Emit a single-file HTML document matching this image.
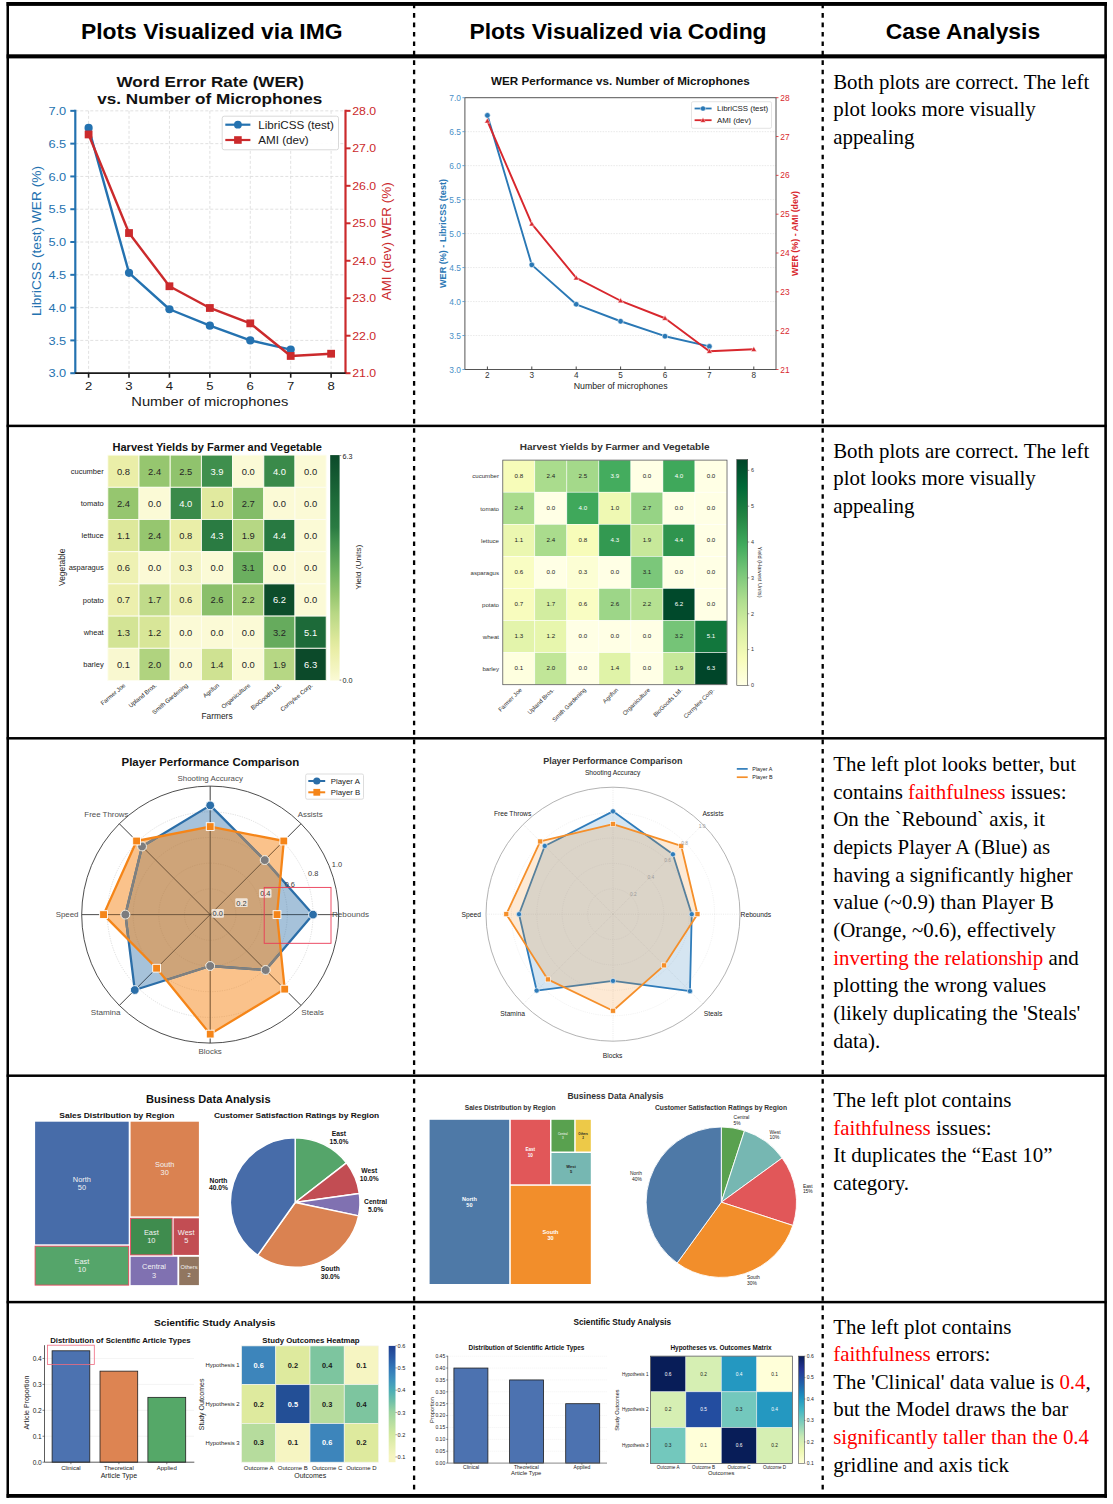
<!DOCTYPE html>
<html><head><meta charset="utf-8"><title>Case analysis</title>
<style>
html,body{margin:0;padding:0;background:#fff;}
body{width:1113px;height:1504px;overflow:hidden;font-family:"Liberation Sans",sans-serif;}
svg{display:block;position:absolute;left:0;top:0;}
text{font-family:"Liberation Sans",sans-serif;}
text.hd{font-weight:bold;font-size:22.9px;}
text.sf{font-family:"Liberation Serif",serif;font-size:20.9px;}
</style></head><body>
<svg width="1113" height="1504" viewBox="0 0 1113 1504">
<rect width="1113" height="1504" fill="#fff"/>
<rect x="6.6" y="2" width="1100.3" height="3.9" fill="#000"/>
<rect x="6.6" y="54.3" width="1100.3" height="4.1" fill="#000"/>
<rect x="6.6" y="1494" width="1100.3" height="3.8" fill="#000"/>
<rect x="6.5" y="2" width="2.5" height="1495.8" fill="#000"/>
<rect x="1104.3" y="2" width="2.6" height="1495.8" fill="#000"/>
<rect x="6.6" y="424.65" width="1100" height="2.5" fill="#000"/>
<rect x="6.6" y="737.05" width="1100" height="2.5" fill="#000"/>
<rect x="6.6" y="1074.45" width="1100" height="2.5" fill="#000"/>
<rect x="6.6" y="1300.85" width="1100" height="2.5" fill="#000"/>
<line x1="414.1" y1="5" x2="414.1" y2="1495" stroke="#000" stroke-width="2.3" stroke-dasharray="4.6 4.834" stroke-dashoffset="1.31"/>
<line x1="822.7" y1="5" x2="822.7" y2="1495" stroke="#000" stroke-width="2.3" stroke-dasharray="4.6 4.834" stroke-dashoffset="1.31"/>
<text x="211.7" y="38.7" text-anchor="middle" class="hd">Plots Visualized via IMG</text>
<text x="618" y="38.7" text-anchor="middle" class="hd">Plots Visualized via Coding</text>
<text x="963" y="38.7" text-anchor="middle" class="hd">Case Analysis</text>
<text x="833.2" y="88.9" class="sf" xml:space="preserve">Both plots are correct. The left</text>
<text x="833.2" y="116.3" class="sf" xml:space="preserve">plot looks more visually</text>
<text x="833.2" y="143.7" class="sf" xml:space="preserve">appealing</text>
<text x="833.2" y="457.7" class="sf" xml:space="preserve">Both plots are correct. The left</text>
<text x="833.2" y="485.35" class="sf" xml:space="preserve">plot looks more visually</text>
<text x="833.2" y="513.0" class="sf" xml:space="preserve">appealing</text>
<text x="833.2" y="770.9" class="sf" xml:space="preserve">The left plot looks better, but</text>
<text x="833.2" y="798.59" class="sf" xml:space="preserve">contains <tspan fill="#ff0000">faithfulness</tspan> issues:</text>
<text x="833.2" y="826.28" class="sf" xml:space="preserve">On the `Rebound` axis, it</text>
<text x="833.2" y="853.97" class="sf" xml:space="preserve">depicts Player A (Blue) as</text>
<text x="833.2" y="881.66" class="sf" xml:space="preserve">having a significantly higher</text>
<text x="833.2" y="909.35" class="sf" xml:space="preserve">value (~0.9) than Player B</text>
<text x="833.2" y="937.04" class="sf" xml:space="preserve">(Orange, ~0.6), effectively</text>
<text x="833.2" y="964.73" class="sf" xml:space="preserve"><tspan fill="#ff0000">inverting the relationship</tspan> and</text>
<text x="833.2" y="992.42" class="sf" xml:space="preserve">plotting the wrong values</text>
<text x="833.2" y="1020.11" class="sf" xml:space="preserve">(likely duplicating the 'Steals'</text>
<text x="833.2" y="1047.8" class="sf" xml:space="preserve">data).</text>
<text x="833.2" y="1106.9" class="sf" xml:space="preserve">The left plot contains</text>
<text x="833.2" y="1134.65" class="sf" xml:space="preserve"><tspan fill="#ff0000">faithfulness</tspan> issues:</text>
<text x="833.2" y="1162.4" class="sf" xml:space="preserve">It duplicates the “East 10”</text>
<text x="833.2" y="1190.15" class="sf" xml:space="preserve">category.</text>
<text x="833.2" y="1333.7" class="sf" xml:space="preserve">The left plot contains</text>
<text x="833.2" y="1361.26" class="sf" xml:space="preserve"><tspan fill="#ff0000">faithfulness</tspan> errors:</text>
<text x="833.2" y="1388.82" class="sf" xml:space="preserve">The 'Clinical' data value is <tspan fill="#ff0000">0.4</tspan>,</text>
<text x="833.2" y="1416.38" class="sf" xml:space="preserve">but the Model draws the bar</text>
<text x="833.2" y="1443.94" class="sf" xml:space="preserve"><tspan fill="#ff0000">significantly taller than the 0.4</tspan></text>
<text x="833.2" y="1471.5" class="sf" xml:space="preserve">gridline and axis tick</text>
<g id="c1l"><line x1="88.6" y1="110.85" x2="88.6" y2="373.2" stroke="#d9d9d9" stroke-width="0.8" stroke-dasharray="3 2"/>
<line x1="129.02" y1="110.85" x2="129.02" y2="373.2" stroke="#d9d9d9" stroke-width="0.8" stroke-dasharray="3 2"/>
<line x1="169.44" y1="110.85" x2="169.44" y2="373.2" stroke="#d9d9d9" stroke-width="0.8" stroke-dasharray="3 2"/>
<line x1="209.86" y1="110.85" x2="209.86" y2="373.2" stroke="#d9d9d9" stroke-width="0.8" stroke-dasharray="3 2"/>
<line x1="250.28" y1="110.85" x2="250.28" y2="373.2" stroke="#d9d9d9" stroke-width="0.8" stroke-dasharray="3 2"/>
<line x1="290.7" y1="110.85" x2="290.7" y2="373.2" stroke="#d9d9d9" stroke-width="0.8" stroke-dasharray="3 2"/>
<line x1="331.12" y1="110.85" x2="331.12" y2="373.2" stroke="#d9d9d9" stroke-width="0.8" stroke-dasharray="3 2"/>
<line x1="75.3" y1="373.2" x2="345.5" y2="373.2" stroke="#d9d9d9" stroke-width="0.8" stroke-dasharray="3 2"/>
<line x1="75.3" y1="340.41" x2="345.5" y2="340.41" stroke="#d9d9d9" stroke-width="0.8" stroke-dasharray="3 2"/>
<line x1="75.3" y1="307.61" x2="345.5" y2="307.61" stroke="#d9d9d9" stroke-width="0.8" stroke-dasharray="3 2"/>
<line x1="75.3" y1="274.82" x2="345.5" y2="274.82" stroke="#d9d9d9" stroke-width="0.8" stroke-dasharray="3 2"/>
<line x1="75.3" y1="242.02" x2="345.5" y2="242.02" stroke="#d9d9d9" stroke-width="0.8" stroke-dasharray="3 2"/>
<line x1="75.3" y1="209.23" x2="345.5" y2="209.23" stroke="#d9d9d9" stroke-width="0.8" stroke-dasharray="3 2"/>
<line x1="75.3" y1="176.44" x2="345.5" y2="176.44" stroke="#d9d9d9" stroke-width="0.8" stroke-dasharray="3 2"/>
<line x1="75.3" y1="143.64" x2="345.5" y2="143.64" stroke="#d9d9d9" stroke-width="0.8" stroke-dasharray="3 2"/>
<line x1="75.3" y1="110.85" x2="345.5" y2="110.85" stroke="#d9d9d9" stroke-width="0.8" stroke-dasharray="3 2"/>
<text x="210.2" y="86.9" font-size="14.6" fill="#111" text-anchor="middle" font-weight="bold" textLength="187.3" lengthAdjust="spacingAndGlyphs">Word Error Rate (WER)</text>
<text x="209.8" y="104" font-size="14.6" fill="#111" text-anchor="middle" font-weight="bold" textLength="225" lengthAdjust="spacingAndGlyphs">vs. Number of Microphones</text>
<line x1="75.3" y1="109.85" x2="75.3" y2="374.1" stroke="#2472b0" stroke-width="2.2"/>
<line x1="345.5" y1="109.85" x2="345.5" y2="374.1" stroke="#cb2a2c" stroke-width="2.2"/>
<line x1="74.2" y1="373.2" x2="346.6" y2="373.2" stroke="#1a1a1a" stroke-width="1.8"/>
<line x1="70.3" y1="373.2" x2="75.3" y2="373.2" stroke="#2472b0" stroke-width="2"/>
<text x="66.2" y="377.3" font-size="11.2" fill="#2472b0" text-anchor="end" textLength="17.8" lengthAdjust="spacingAndGlyphs">3.0</text>
<line x1="70.3" y1="340.41" x2="75.3" y2="340.41" stroke="#2472b0" stroke-width="2"/>
<text x="66.2" y="344.51" font-size="11.2" fill="#2472b0" text-anchor="end" textLength="17.8" lengthAdjust="spacingAndGlyphs">3.5</text>
<line x1="70.3" y1="307.61" x2="75.3" y2="307.61" stroke="#2472b0" stroke-width="2"/>
<text x="66.2" y="311.71" font-size="11.2" fill="#2472b0" text-anchor="end" textLength="17.8" lengthAdjust="spacingAndGlyphs">4.0</text>
<line x1="70.3" y1="274.82" x2="75.3" y2="274.82" stroke="#2472b0" stroke-width="2"/>
<text x="66.2" y="278.92" font-size="11.2" fill="#2472b0" text-anchor="end" textLength="17.8" lengthAdjust="spacingAndGlyphs">4.5</text>
<line x1="70.3" y1="242.02" x2="75.3" y2="242.02" stroke="#2472b0" stroke-width="2"/>
<text x="66.2" y="246.12" font-size="11.2" fill="#2472b0" text-anchor="end" textLength="17.8" lengthAdjust="spacingAndGlyphs">5.0</text>
<line x1="70.3" y1="209.23" x2="75.3" y2="209.23" stroke="#2472b0" stroke-width="2"/>
<text x="66.2" y="213.33" font-size="11.2" fill="#2472b0" text-anchor="end" textLength="17.8" lengthAdjust="spacingAndGlyphs">5.5</text>
<line x1="70.3" y1="176.44" x2="75.3" y2="176.44" stroke="#2472b0" stroke-width="2"/>
<text x="66.2" y="180.54" font-size="11.2" fill="#2472b0" text-anchor="end" textLength="17.8" lengthAdjust="spacingAndGlyphs">6.0</text>
<line x1="70.3" y1="143.64" x2="75.3" y2="143.64" stroke="#2472b0" stroke-width="2"/>
<text x="66.2" y="147.74" font-size="11.2" fill="#2472b0" text-anchor="end" textLength="17.8" lengthAdjust="spacingAndGlyphs">6.5</text>
<line x1="70.3" y1="110.85" x2="75.3" y2="110.85" stroke="#2472b0" stroke-width="2"/>
<text x="66.2" y="114.95" font-size="11.2" fill="#2472b0" text-anchor="end" textLength="17.8" lengthAdjust="spacingAndGlyphs">7.0</text>
<line x1="345.5" y1="373.2" x2="350.5" y2="373.2" stroke="#cb2a2c" stroke-width="2"/>
<text x="352.2" y="377.3" font-size="11.2" fill="#cb2a2c" textLength="24" lengthAdjust="spacingAndGlyphs">21.0</text>
<line x1="345.5" y1="335.72" x2="350.5" y2="335.72" stroke="#cb2a2c" stroke-width="2"/>
<text x="352.2" y="339.82" font-size="11.2" fill="#cb2a2c" textLength="24" lengthAdjust="spacingAndGlyphs">22.0</text>
<line x1="345.5" y1="298.24" x2="350.5" y2="298.24" stroke="#cb2a2c" stroke-width="2"/>
<text x="352.2" y="302.34" font-size="11.2" fill="#cb2a2c" textLength="24" lengthAdjust="spacingAndGlyphs">23.0</text>
<line x1="345.5" y1="260.76" x2="350.5" y2="260.76" stroke="#cb2a2c" stroke-width="2"/>
<text x="352.2" y="264.86" font-size="11.2" fill="#cb2a2c" textLength="24" lengthAdjust="spacingAndGlyphs">24.0</text>
<line x1="345.5" y1="223.29" x2="350.5" y2="223.29" stroke="#cb2a2c" stroke-width="2"/>
<text x="352.2" y="227.39" font-size="11.2" fill="#cb2a2c" textLength="24" lengthAdjust="spacingAndGlyphs">25.0</text>
<line x1="345.5" y1="185.81" x2="350.5" y2="185.81" stroke="#cb2a2c" stroke-width="2"/>
<text x="352.2" y="189.91" font-size="11.2" fill="#cb2a2c" textLength="24" lengthAdjust="spacingAndGlyphs">26.0</text>
<line x1="345.5" y1="148.33" x2="350.5" y2="148.33" stroke="#cb2a2c" stroke-width="2"/>
<text x="352.2" y="152.43" font-size="11.2" fill="#cb2a2c" textLength="24" lengthAdjust="spacingAndGlyphs">27.0</text>
<line x1="345.5" y1="110.85" x2="350.5" y2="110.85" stroke="#cb2a2c" stroke-width="2"/>
<text x="352.2" y="114.95" font-size="11.2" fill="#cb2a2c" textLength="24" lengthAdjust="spacingAndGlyphs">28.0</text>
<line x1="88.6" y1="373.2" x2="88.6" y2="377.7" stroke="#1a1a1a" stroke-width="1.6"/>
<text x="88.6" y="390.4" font-size="11.2" fill="#1a1a1a" text-anchor="middle" textLength="7.3" lengthAdjust="spacingAndGlyphs">2</text>
<line x1="129.02" y1="373.2" x2="129.02" y2="377.7" stroke="#1a1a1a" stroke-width="1.6"/>
<text x="129.02" y="390.4" font-size="11.2" fill="#1a1a1a" text-anchor="middle" textLength="7.3" lengthAdjust="spacingAndGlyphs">3</text>
<line x1="169.44" y1="373.2" x2="169.44" y2="377.7" stroke="#1a1a1a" stroke-width="1.6"/>
<text x="169.44" y="390.4" font-size="11.2" fill="#1a1a1a" text-anchor="middle" textLength="7.3" lengthAdjust="spacingAndGlyphs">4</text>
<line x1="209.86" y1="373.2" x2="209.86" y2="377.7" stroke="#1a1a1a" stroke-width="1.6"/>
<text x="209.86" y="390.4" font-size="11.2" fill="#1a1a1a" text-anchor="middle" textLength="7.3" lengthAdjust="spacingAndGlyphs">5</text>
<line x1="250.28" y1="373.2" x2="250.28" y2="377.7" stroke="#1a1a1a" stroke-width="1.6"/>
<text x="250.28" y="390.4" font-size="11.2" fill="#1a1a1a" text-anchor="middle" textLength="7.3" lengthAdjust="spacingAndGlyphs">6</text>
<line x1="290.7" y1="373.2" x2="290.7" y2="377.7" stroke="#1a1a1a" stroke-width="1.6"/>
<text x="290.7" y="390.4" font-size="11.2" fill="#1a1a1a" text-anchor="middle" textLength="7.3" lengthAdjust="spacingAndGlyphs">7</text>
<line x1="331.12" y1="373.2" x2="331.12" y2="377.7" stroke="#1a1a1a" stroke-width="1.6"/>
<text x="331.12" y="390.4" font-size="11.2" fill="#1a1a1a" text-anchor="middle" textLength="7.3" lengthAdjust="spacingAndGlyphs">8</text>
<text x="209.8" y="406" font-size="12.6" fill="#1a1a1a" text-anchor="middle" textLength="157" lengthAdjust="spacingAndGlyphs">Number of microphones</text>
<text x="40.6" y="241" font-size="12.2" fill="#2472b0" text-anchor="middle" transform="rotate(-90 40.6 241)" textLength="150" lengthAdjust="spacingAndGlyphs">LibriCSS (test) WER (%)</text>
<text x="391.2" y="241.3" font-size="12.2" fill="#cb2a2c" text-anchor="middle" transform="rotate(-90 391.2 241.3)" textLength="118" lengthAdjust="spacingAndGlyphs">AMI (dev) WER (%)</text>
<polyline points="88.6,127.9 129.02,272.85 169.44,309.25 209.86,325.65 250.28,340.41 290.7,349.59" fill="none" stroke="#2472b0" stroke-width="2.4" stroke-linejoin="round"/>
<circle cx="88.6" cy="127.9" r="4.1" fill="#2472b0"/>
<circle cx="129.02" cy="272.85" r="4.1" fill="#2472b0"/>
<circle cx="169.44" cy="309.25" r="4.1" fill="#2472b0"/>
<circle cx="209.86" cy="325.65" r="4.1" fill="#2472b0"/>
<circle cx="250.28" cy="340.41" r="4.1" fill="#2472b0"/>
<circle cx="290.7" cy="349.59" r="4.1" fill="#2472b0"/>
<polyline points="88.6,134.46 129.02,233.03 169.44,286.25 209.86,307.99 250.28,323.35 290.7,355.96 331.12,353.71" fill="none" stroke="#cb2a2c" stroke-width="2.4" stroke-linejoin="round"/>
<rect x="84.7" y="130.56" width="7.8" height="7.8" fill="#cb2a2c"/>
<rect x="125.12" y="229.13" width="7.8" height="7.8" fill="#cb2a2c"/>
<rect x="165.54" y="282.35" width="7.8" height="7.8" fill="#cb2a2c"/>
<rect x="205.96" y="304.09" width="7.8" height="7.8" fill="#cb2a2c"/>
<rect x="246.38" y="319.45" width="7.8" height="7.8" fill="#cb2a2c"/>
<rect x="286.8" y="352.06" width="7.8" height="7.8" fill="#cb2a2c"/>
<rect x="327.22" y="349.81" width="7.8" height="7.8" fill="#cb2a2c"/>
<rect x="222.2" y="116.2" width="116.3" height="33.6" fill="#fff" stroke="#d5d5d5" stroke-width="0.9" rx="2" ry="2" fill-opacity="0.9"/>
<line x1="225.3" y1="124.7" x2="250.4" y2="124.7" stroke="#2472b0" stroke-width="2.2"/>
<circle cx="237.9" cy="124.7" r="3.9" fill="#2472b0"/>
<line x1="225.3" y1="140" x2="250.4" y2="140" stroke="#cb2a2c" stroke-width="2.2"/>
<rect x="234.1" y="136.2" width="7.6" height="7.6" fill="#cb2a2c"/>
<text x="258.2" y="128.6" font-size="10.8" fill="#1a1a1a" textLength="75.8" lengthAdjust="spacingAndGlyphs">LibriCSS (test)</text>
<text x="258.2" y="143.9" font-size="10.8" fill="#1a1a1a" textLength="50.5" lengthAdjust="spacingAndGlyphs">AMI (dev)</text></g>
<g id="c1r"><line x1="464.9" y1="335.52" x2="776" y2="335.52" stroke="#e3e3e3" stroke-width="0.8" stroke-dasharray="1.5 1.2"/>
<line x1="464.9" y1="301.55" x2="776" y2="301.55" stroke="#e3e3e3" stroke-width="0.8" stroke-dasharray="1.5 1.2"/>
<line x1="464.9" y1="267.57" x2="776" y2="267.57" stroke="#e3e3e3" stroke-width="0.8" stroke-dasharray="1.5 1.2"/>
<line x1="464.9" y1="233.6" x2="776" y2="233.6" stroke="#e3e3e3" stroke-width="0.8" stroke-dasharray="1.5 1.2"/>
<line x1="464.9" y1="199.62" x2="776" y2="199.62" stroke="#e3e3e3" stroke-width="0.8" stroke-dasharray="1.5 1.2"/>
<line x1="464.9" y1="165.65" x2="776" y2="165.65" stroke="#e3e3e3" stroke-width="0.8" stroke-dasharray="1.5 1.2"/>
<line x1="464.9" y1="131.67" x2="776" y2="131.67" stroke="#e3e3e3" stroke-width="0.8" stroke-dasharray="1.5 1.2"/>
<text x="620.4" y="84.6" font-size="11.4" fill="#111" text-anchor="middle" font-weight="bold" textLength="258.7" lengthAdjust="spacingAndGlyphs">WER Performance vs. Number of Microphones</text>
<rect x="464.9" y="97.7" width="311.1" height="271.8" fill="none" stroke="#555" stroke-width="1"/>
<line x1="462.4" y1="369.5" x2="464.9" y2="369.5" stroke="#4a8fc7" stroke-width="0.8"/>
<text x="461" y="372.5" font-size="8.4" fill="#4a8fc7" text-anchor="end">3.0</text>
<line x1="462.4" y1="335.52" x2="464.9" y2="335.52" stroke="#4a8fc7" stroke-width="0.8"/>
<text x="461" y="338.52" font-size="8.4" fill="#4a8fc7" text-anchor="end">3.5</text>
<line x1="462.4" y1="301.55" x2="464.9" y2="301.55" stroke="#4a8fc7" stroke-width="0.8"/>
<text x="461" y="304.55" font-size="8.4" fill="#4a8fc7" text-anchor="end">4.0</text>
<line x1="462.4" y1="267.57" x2="464.9" y2="267.57" stroke="#4a8fc7" stroke-width="0.8"/>
<text x="461" y="270.57" font-size="8.4" fill="#4a8fc7" text-anchor="end">4.5</text>
<line x1="462.4" y1="233.6" x2="464.9" y2="233.6" stroke="#4a8fc7" stroke-width="0.8"/>
<text x="461" y="236.6" font-size="8.4" fill="#4a8fc7" text-anchor="end">5.0</text>
<line x1="462.4" y1="199.62" x2="464.9" y2="199.62" stroke="#4a8fc7" stroke-width="0.8"/>
<text x="461" y="202.62" font-size="8.4" fill="#4a8fc7" text-anchor="end">5.5</text>
<line x1="462.4" y1="165.65" x2="464.9" y2="165.65" stroke="#4a8fc7" stroke-width="0.8"/>
<text x="461" y="168.65" font-size="8.4" fill="#4a8fc7" text-anchor="end">6.0</text>
<line x1="462.4" y1="131.67" x2="464.9" y2="131.67" stroke="#4a8fc7" stroke-width="0.8"/>
<text x="461" y="134.67" font-size="8.4" fill="#4a8fc7" text-anchor="end">6.5</text>
<line x1="462.4" y1="97.7" x2="464.9" y2="97.7" stroke="#4a8fc7" stroke-width="0.8"/>
<text x="461" y="100.7" font-size="8.4" fill="#4a8fc7" text-anchor="end">7.0</text>
<line x1="776" y1="369.5" x2="778.5" y2="369.5" stroke="#d8272d" stroke-width="0.8"/>
<text x="780.3" y="372.5" font-size="8.4" fill="#d8272d">21</text>
<line x1="776" y1="330.67" x2="778.5" y2="330.67" stroke="#d8272d" stroke-width="0.8"/>
<text x="780.3" y="333.67" font-size="8.4" fill="#d8272d">22</text>
<line x1="776" y1="291.84" x2="778.5" y2="291.84" stroke="#d8272d" stroke-width="0.8"/>
<text x="780.3" y="294.84" font-size="8.4" fill="#d8272d">23</text>
<line x1="776" y1="253.01" x2="778.5" y2="253.01" stroke="#d8272d" stroke-width="0.8"/>
<text x="780.3" y="256.01" font-size="8.4" fill="#d8272d">24</text>
<line x1="776" y1="214.19" x2="778.5" y2="214.19" stroke="#d8272d" stroke-width="0.8"/>
<text x="780.3" y="217.19" font-size="8.4" fill="#d8272d">25</text>
<line x1="776" y1="175.36" x2="778.5" y2="175.36" stroke="#d8272d" stroke-width="0.8"/>
<text x="780.3" y="178.36" font-size="8.4" fill="#d8272d">26</text>
<line x1="776" y1="136.53" x2="778.5" y2="136.53" stroke="#d8272d" stroke-width="0.8"/>
<text x="780.3" y="139.53" font-size="8.4" fill="#d8272d">27</text>
<line x1="776" y1="97.7" x2="778.5" y2="97.7" stroke="#d8272d" stroke-width="0.8"/>
<text x="780.3" y="100.7" font-size="8.4" fill="#d8272d">28</text>
<line x1="487.4" y1="369.5" x2="487.4" y2="366.5" stroke="#333" stroke-width="0.9"/>
<text x="487.4" y="378.4" font-size="8.2" fill="#333" text-anchor="middle">2</text>
<line x1="531.8" y1="369.5" x2="531.8" y2="366.5" stroke="#333" stroke-width="0.9"/>
<text x="531.8" y="378.4" font-size="8.2" fill="#333" text-anchor="middle">3</text>
<line x1="576.2" y1="369.5" x2="576.2" y2="366.5" stroke="#333" stroke-width="0.9"/>
<text x="576.2" y="378.4" font-size="8.2" fill="#333" text-anchor="middle">4</text>
<line x1="620.6" y1="369.5" x2="620.6" y2="366.5" stroke="#333" stroke-width="0.9"/>
<text x="620.6" y="378.4" font-size="8.2" fill="#333" text-anchor="middle">5</text>
<line x1="665" y1="369.5" x2="665" y2="366.5" stroke="#333" stroke-width="0.9"/>
<text x="665" y="378.4" font-size="8.2" fill="#333" text-anchor="middle">6</text>
<line x1="709.4" y1="369.5" x2="709.4" y2="366.5" stroke="#333" stroke-width="0.9"/>
<text x="709.4" y="378.4" font-size="8.2" fill="#333" text-anchor="middle">7</text>
<line x1="753.8" y1="369.5" x2="753.8" y2="366.5" stroke="#333" stroke-width="0.9"/>
<text x="753.8" y="378.4" font-size="8.2" fill="#333" text-anchor="middle">8</text>
<text x="620.6" y="388.6" font-size="8.8" fill="#222" text-anchor="middle">Number of microphones</text>
<text x="445.6" y="233.5" font-size="8.6" fill="#2a78b5" text-anchor="middle" font-weight="bold" transform="rotate(-90 445.6 233.5)" textLength="109" lengthAdjust="spacingAndGlyphs">WER (%) - LibriCSS (test)</text>
<text x="798.4" y="233.5" font-size="8.6" fill="#d8272d" text-anchor="middle" font-weight="bold" transform="rotate(-90 798.4 233.5)" textLength="85" lengthAdjust="spacingAndGlyphs">WER (%) - AMI (dev)</text>
<polyline points="487.4,115.37 531.8,264.86 576.2,304.27 620.6,321.26 665,336.2 709.4,346.4" fill="none" stroke="#2a78b5" stroke-width="1.9" stroke-linejoin="round"/>
<circle cx="487.4" cy="115.37" r="2.8" fill="#2a78b5" stroke="#fff" stroke-width="0.6"/>
<circle cx="531.8" cy="264.86" r="2.8" fill="#2a78b5" stroke="#fff" stroke-width="0.6"/>
<circle cx="576.2" cy="304.27" r="2.8" fill="#2a78b5" stroke="#fff" stroke-width="0.6"/>
<circle cx="620.6" cy="321.26" r="2.8" fill="#2a78b5" stroke="#fff" stroke-width="0.6"/>
<circle cx="665" cy="336.2" r="2.8" fill="#2a78b5" stroke="#fff" stroke-width="0.6"/>
<circle cx="709.4" cy="346.4" r="2.8" fill="#2a78b5" stroke="#fff" stroke-width="0.6"/>
<polyline points="487.4,121 531.8,223.89 576.2,277.86 620.6,300.77 665,318.25 709.4,351.25 753.8,349.31" fill="none" stroke="#d8272d" stroke-width="1.9" stroke-linejoin="round"/>
<polygon points="484.6,123.1 490.2,123.1 487.4,118.1" fill="#d8272d" stroke="#fff" stroke-width="0.5"/>
<polygon points="529,225.99 534.6,225.99 531.8,220.99" fill="#d8272d" stroke="#fff" stroke-width="0.5"/>
<polygon points="573.4,279.96 579,279.96 576.2,274.96" fill="#d8272d" stroke="#fff" stroke-width="0.5"/>
<polygon points="617.8,302.87 623.4,302.87 620.6,297.87" fill="#d8272d" stroke="#fff" stroke-width="0.5"/>
<polygon points="662.2,320.35 667.8,320.35 665,315.35" fill="#d8272d" stroke="#fff" stroke-width="0.5"/>
<polygon points="706.6,353.35 712.2,353.35 709.4,348.35" fill="#d8272d" stroke="#fff" stroke-width="0.5"/>
<polygon points="751,351.41 756.6,351.41 753.8,346.41" fill="#d8272d" stroke="#fff" stroke-width="0.5"/>
<rect x="691.5" y="101.7" width="80" height="26.6" fill="#fff" stroke="#d9d9d9" stroke-width="0.7" rx="1.5" ry="1.5"/>
<line x1="694.6" y1="108.5" x2="711.6" y2="108.5" stroke="#2a78b5" stroke-width="1.8"/>
<circle cx="703" cy="108.5" r="2.6" fill="#2a78b5" stroke="#fff" stroke-width="0.5"/>
<line x1="694.6" y1="120.2" x2="711.6" y2="120.2" stroke="#d8272d" stroke-width="1.8"/>
<polygon points="700.4,122.3 705.6,122.3 703,117.5" fill="#d8272d" stroke="#fff" stroke-width="0.4"/>
<text x="717" y="111.4" font-size="8" fill="#222" textLength="51.2" lengthAdjust="spacingAndGlyphs">LibriCSS (test)</text>
<text x="717" y="123.1" font-size="8" fill="#222" textLength="34" lengthAdjust="spacingAndGlyphs">AMI (dev)</text></g>
<g id="c2l"><text x="217.2" y="450.9" font-size="11" fill="#111" text-anchor="middle" font-weight="bold" textLength="209.4" lengthAdjust="spacingAndGlyphs">Harvest Yields by Farmer and Vegetable</text>
<rect x="107.8" y="455.1" width="31.2" height="32.2" fill="#eaeea8" stroke="#fdfdf0" stroke-width="0.9"/>
<text x="123.4" y="474.5" font-size="9.4" fill="#262626" text-anchor="middle">0.8</text>
<rect x="139" y="455.1" width="31.2" height="32.2" fill="#96c66f" stroke="#fdfdf0" stroke-width="0.9"/>
<text x="154.6" y="474.5" font-size="9.4" fill="#262626" text-anchor="middle">2.4</text>
<rect x="170.2" y="455.1" width="31.2" height="32.2" fill="#90c36d" stroke="#fdfdf0" stroke-width="0.9"/>
<text x="185.8" y="474.5" font-size="9.4" fill="#262626" text-anchor="middle">2.5</text>
<rect x="201.4" y="455.1" width="31.2" height="32.2" fill="#3f8f4d" stroke="#fdfdf0" stroke-width="0.9"/>
<text x="217" y="474.5" font-size="9.4" fill="#fff" text-anchor="middle">3.9</text>
<rect x="232.6" y="455.1" width="31.2" height="32.2" fill="#fbfad6" stroke="#fdfdf0" stroke-width="0.9"/>
<text x="248.2" y="474.5" font-size="9.4" fill="#262626" text-anchor="middle">0.0</text>
<rect x="263.8" y="455.1" width="31.2" height="32.2" fill="#3a8a4a" stroke="#fdfdf0" stroke-width="0.9"/>
<text x="279.4" y="474.5" font-size="9.4" fill="#fff" text-anchor="middle">4.0</text>
<rect x="295" y="455.1" width="31.2" height="32.2" fill="#fbfad6" stroke="#fdfdf0" stroke-width="0.9"/>
<text x="310.6" y="474.5" font-size="9.4" fill="#262626" text-anchor="middle">0.0</text>
<text x="103.7" y="473.8" font-size="7.5" fill="#222" text-anchor="end">cucumber</text>
<rect x="107.8" y="487.3" width="31.2" height="32.2" fill="#96c66f" stroke="#fdfdf0" stroke-width="0.9"/>
<text x="123.4" y="506.7" font-size="9.4" fill="#262626" text-anchor="middle">2.4</text>
<rect x="139" y="487.3" width="31.2" height="32.2" fill="#fbfad6" stroke="#fdfdf0" stroke-width="0.9"/>
<text x="154.6" y="506.7" font-size="9.4" fill="#262626" text-anchor="middle">0.0</text>
<rect x="170.2" y="487.3" width="31.2" height="32.2" fill="#3a8a4a" stroke="#fdfdf0" stroke-width="0.9"/>
<text x="185.8" y="506.7" font-size="9.4" fill="#fff" text-anchor="middle">4.0</text>
<rect x="201.4" y="487.3" width="31.2" height="32.2" fill="#e1ea9f" stroke="#fdfdf0" stroke-width="0.9"/>
<text x="217" y="506.7" font-size="9.4" fill="#262626" text-anchor="middle">1.0</text>
<rect x="232.6" y="487.3" width="31.2" height="32.2" fill="#83bc68" stroke="#fdfdf0" stroke-width="0.9"/>
<text x="248.2" y="506.7" font-size="9.4" fill="#262626" text-anchor="middle">2.7</text>
<rect x="263.8" y="487.3" width="31.2" height="32.2" fill="#fbfad6" stroke="#fdfdf0" stroke-width="0.9"/>
<text x="279.4" y="506.7" font-size="9.4" fill="#262626" text-anchor="middle">0.0</text>
<rect x="295" y="487.3" width="31.2" height="32.2" fill="#fbfad6" stroke="#fdfdf0" stroke-width="0.9"/>
<text x="310.6" y="506.7" font-size="9.4" fill="#262626" text-anchor="middle">0.0</text>
<text x="103.7" y="506" font-size="7.5" fill="#222" text-anchor="end">tomato</text>
<rect x="107.8" y="519.5" width="31.2" height="32.2" fill="#dde89b" stroke="#fdfdf0" stroke-width="0.9"/>
<text x="123.4" y="538.9" font-size="9.4" fill="#262626" text-anchor="middle">1.1</text>
<rect x="139" y="519.5" width="31.2" height="32.2" fill="#96c66f" stroke="#fdfdf0" stroke-width="0.9"/>
<text x="154.6" y="538.9" font-size="9.4" fill="#262626" text-anchor="middle">2.4</text>
<rect x="170.2" y="519.5" width="31.2" height="32.2" fill="#eaeea8" stroke="#fdfdf0" stroke-width="0.9"/>
<text x="185.8" y="538.9" font-size="9.4" fill="#262626" text-anchor="middle">0.8</text>
<rect x="201.4" y="519.5" width="31.2" height="32.2" fill="#2a7b42" stroke="#fdfdf0" stroke-width="0.9"/>
<text x="217" y="538.9" font-size="9.4" fill="#fff" text-anchor="middle">4.3</text>
<rect x="232.6" y="519.5" width="31.2" height="32.2" fill="#b6d784" stroke="#fdfdf0" stroke-width="0.9"/>
<text x="248.2" y="538.9" font-size="9.4" fill="#262626" text-anchor="middle">1.9</text>
<rect x="263.8" y="519.5" width="31.2" height="32.2" fill="#287941" stroke="#fdfdf0" stroke-width="0.9"/>
<text x="279.4" y="538.9" font-size="9.4" fill="#fff" text-anchor="middle">4.4</text>
<rect x="295" y="519.5" width="31.2" height="32.2" fill="#fbfad6" stroke="#fdfdf0" stroke-width="0.9"/>
<text x="310.6" y="538.9" font-size="9.4" fill="#262626" text-anchor="middle">0.0</text>
<text x="103.7" y="538.2" font-size="7.5" fill="#222" text-anchor="end">lettuce</text>
<rect x="107.8" y="551.7" width="31.2" height="32.2" fill="#eef1b3" stroke="#fdfdf0" stroke-width="0.9"/>
<text x="123.4" y="571.1" font-size="9.4" fill="#262626" text-anchor="middle">0.6</text>
<rect x="139" y="551.7" width="31.2" height="32.2" fill="#fbfad6" stroke="#fdfdf0" stroke-width="0.9"/>
<text x="154.6" y="571.1" font-size="9.4" fill="#262626" text-anchor="middle">0.0</text>
<rect x="170.2" y="551.7" width="31.2" height="32.2" fill="#f4f5c3" stroke="#fdfdf0" stroke-width="0.9"/>
<text x="185.8" y="571.1" font-size="9.4" fill="#262626" text-anchor="middle">0.3</text>
<rect x="201.4" y="551.7" width="31.2" height="32.2" fill="#fbfad6" stroke="#fdfdf0" stroke-width="0.9"/>
<text x="217" y="571.1" font-size="9.4" fill="#262626" text-anchor="middle">0.0</text>
<rect x="232.6" y="551.7" width="31.2" height="32.2" fill="#6baf5f" stroke="#fdfdf0" stroke-width="0.9"/>
<text x="248.2" y="571.1" font-size="9.4" fill="#262626" text-anchor="middle">3.1</text>
<rect x="263.8" y="551.7" width="31.2" height="32.2" fill="#fbfad6" stroke="#fdfdf0" stroke-width="0.9"/>
<text x="279.4" y="571.1" font-size="9.4" fill="#262626" text-anchor="middle">0.0</text>
<rect x="295" y="551.7" width="31.2" height="32.2" fill="#fbfad6" stroke="#fdfdf0" stroke-width="0.9"/>
<text x="310.6" y="571.1" font-size="9.4" fill="#262626" text-anchor="middle">0.0</text>
<text x="103.7" y="570.4" font-size="7.5" fill="#222" text-anchor="end">asparagus</text>
<rect x="107.8" y="583.9" width="31.2" height="32.2" fill="#ecefad" stroke="#fdfdf0" stroke-width="0.9"/>
<text x="123.4" y="603.3" font-size="9.4" fill="#262626" text-anchor="middle">0.7</text>
<rect x="139" y="583.9" width="31.2" height="32.2" fill="#c0db8a" stroke="#fdfdf0" stroke-width="0.9"/>
<text x="154.6" y="603.3" font-size="9.4" fill="#262626" text-anchor="middle">1.7</text>
<rect x="170.2" y="583.9" width="31.2" height="32.2" fill="#eef1b3" stroke="#fdfdf0" stroke-width="0.9"/>
<text x="185.8" y="603.3" font-size="9.4" fill="#262626" text-anchor="middle">0.6</text>
<rect x="201.4" y="583.9" width="31.2" height="32.2" fill="#8abf6a" stroke="#fdfdf0" stroke-width="0.9"/>
<text x="217" y="603.3" font-size="9.4" fill="#262626" text-anchor="middle">2.6</text>
<rect x="232.6" y="583.9" width="31.2" height="32.2" fill="#a3cd77" stroke="#fdfdf0" stroke-width="0.9"/>
<text x="248.2" y="603.3" font-size="9.4" fill="#262626" text-anchor="middle">2.2</text>
<rect x="263.8" y="583.9" width="31.2" height="32.2" fill="#0d4d2b" stroke="#fdfdf0" stroke-width="0.9"/>
<text x="279.4" y="603.3" font-size="9.4" fill="#fff" text-anchor="middle">6.2</text>
<rect x="295" y="583.9" width="31.2" height="32.2" fill="#fbfad6" stroke="#fdfdf0" stroke-width="0.9"/>
<text x="310.6" y="603.3" font-size="9.4" fill="#262626" text-anchor="middle">0.0</text>
<text x="103.7" y="602.6" font-size="7.5" fill="#222" text-anchor="end">potato</text>
<rect x="107.8" y="616.1" width="31.2" height="32.2" fill="#d3e495" stroke="#fdfdf0" stroke-width="0.9"/>
<text x="123.4" y="635.5" font-size="9.4" fill="#262626" text-anchor="middle">1.3</text>
<rect x="139" y="616.1" width="31.2" height="32.2" fill="#d8e698" stroke="#fdfdf0" stroke-width="0.9"/>
<text x="154.6" y="635.5" font-size="9.4" fill="#262626" text-anchor="middle">1.2</text>
<rect x="170.2" y="616.1" width="31.2" height="32.2" fill="#fbfad6" stroke="#fdfdf0" stroke-width="0.9"/>
<text x="185.8" y="635.5" font-size="9.4" fill="#262626" text-anchor="middle">0.0</text>
<rect x="201.4" y="616.1" width="31.2" height="32.2" fill="#fbfad6" stroke="#fdfdf0" stroke-width="0.9"/>
<text x="217" y="635.5" font-size="9.4" fill="#262626" text-anchor="middle">0.0</text>
<rect x="232.6" y="616.1" width="31.2" height="32.2" fill="#fbfad6" stroke="#fdfdf0" stroke-width="0.9"/>
<text x="248.2" y="635.5" font-size="9.4" fill="#262626" text-anchor="middle">0.0</text>
<rect x="263.8" y="616.1" width="31.2" height="32.2" fill="#66ab5d" stroke="#fdfdf0" stroke-width="0.9"/>
<text x="279.4" y="635.5" font-size="9.4" fill="#262626" text-anchor="middle">3.2</text>
<rect x="295" y="616.1" width="31.2" height="32.2" fill="#1d6a39" stroke="#fdfdf0" stroke-width="0.9"/>
<text x="310.6" y="635.5" font-size="9.4" fill="#fff" text-anchor="middle">5.1</text>
<text x="103.7" y="634.8" font-size="7.5" fill="#222" text-anchor="end">wheat</text>
<rect x="107.8" y="648.3" width="31.2" height="32.2" fill="#f9f8d0" stroke="#fdfdf0" stroke-width="0.9"/>
<text x="123.4" y="667.7" font-size="9.4" fill="#262626" text-anchor="middle">0.1</text>
<rect x="139" y="648.3" width="31.2" height="32.2" fill="#b0d37f" stroke="#fdfdf0" stroke-width="0.9"/>
<text x="154.6" y="667.7" font-size="9.4" fill="#262626" text-anchor="middle">2.0</text>
<rect x="170.2" y="648.3" width="31.2" height="32.2" fill="#fbfad6" stroke="#fdfdf0" stroke-width="0.9"/>
<text x="185.8" y="667.7" font-size="9.4" fill="#262626" text-anchor="middle">0.0</text>
<rect x="201.4" y="648.3" width="31.2" height="32.2" fill="#cfe292" stroke="#fdfdf0" stroke-width="0.9"/>
<text x="217" y="667.7" font-size="9.4" fill="#262626" text-anchor="middle">1.4</text>
<rect x="232.6" y="648.3" width="31.2" height="32.2" fill="#fbfad6" stroke="#fdfdf0" stroke-width="0.9"/>
<text x="248.2" y="667.7" font-size="9.4" fill="#262626" text-anchor="middle">0.0</text>
<rect x="263.8" y="648.3" width="31.2" height="32.2" fill="#b6d784" stroke="#fdfdf0" stroke-width="0.9"/>
<text x="279.4" y="667.7" font-size="9.4" fill="#262626" text-anchor="middle">1.9</text>
<rect x="295" y="648.3" width="31.2" height="32.2" fill="#0c4a2a" stroke="#fdfdf0" stroke-width="0.9"/>
<text x="310.6" y="667.7" font-size="9.4" fill="#fff" text-anchor="middle">6.3</text>
<text x="103.7" y="667" font-size="7.5" fill="#222" text-anchor="end">barley</text>
<text x="125.9" y="686" font-size="5.95" fill="#222" text-anchor="end" transform="rotate(-40 125.9 686)">Farmer Joe</text>
<text x="157.1" y="686" font-size="5.95" fill="#222" text-anchor="end" transform="rotate(-40 157.1 686)">Upland Bros.</text>
<text x="188.3" y="686" font-size="5.95" fill="#222" text-anchor="end" transform="rotate(-40 188.3 686)">Smith Gardening</text>
<text x="219.5" y="686" font-size="5.95" fill="#222" text-anchor="end" transform="rotate(-40 219.5 686)">Agrifun</text>
<text x="250.7" y="686" font-size="5.95" fill="#222" text-anchor="end" transform="rotate(-40 250.7 686)">Organiculture</text>
<text x="281.9" y="686" font-size="5.95" fill="#222" text-anchor="end" transform="rotate(-40 281.9 686)">BioGoods Ltd.</text>
<text x="313.1" y="686" font-size="5.95" fill="#222" text-anchor="end" transform="rotate(-40 313.1 686)">Cornylee Corp.</text>
<text x="64.6" y="567.3" font-size="8.4" fill="#222" text-anchor="middle" transform="rotate(-90 64.6 567.3)">Vegetable</text>
<text x="217" y="718.6" font-size="8.4" fill="#222" text-anchor="middle">Farmers</text>
<defs><linearGradient id="g2l" x1="0" y1="0" x2="0" y2="1"><stop offset="0" stop-color="#0c4a2a"/><stop offset="0.19" stop-color="#1d6a39"/><stop offset="0.32" stop-color="#2a7b42"/><stop offset="0.38" stop-color="#3f8f4d"/><stop offset="0.51" stop-color="#6cb05f"/><stop offset="0.62" stop-color="#96c66f"/><stop offset="0.7" stop-color="#b7d784"/><stop offset="0.82" stop-color="#dde89b"/><stop offset="0.87" stop-color="#eaeea8"/><stop offset="0.95" stop-color="#f4f5c2"/><stop offset="1" stop-color="#fbfad6"/></linearGradient></defs>
<rect x="330.2" y="455.1" width="9.4" height="225.4" fill="url(#g2l)"/>
<line x1="339.6" y1="455.5" x2="341.3" y2="455.5" stroke="#444" stroke-width="0.6"/>
<line x1="339.6" y1="680.1" x2="341.3" y2="680.1" stroke="#444" stroke-width="0.6"/>
<text x="342.6" y="458.7" font-size="7.2" fill="#222">6.3</text>
<text x="342.6" y="682.9" font-size="7.2" fill="#222">0.0</text>
<text x="361.4" y="567.3" font-size="8" fill="#222" text-anchor="middle" transform="rotate(-90 361.4 567.3)" textLength="45" lengthAdjust="spacingAndGlyphs">Yield (Units)</text></g>
<g id="c2r"><text x="614.7" y="449.5" font-size="9.6" fill="#333" text-anchor="middle" font-weight="bold" textLength="189.8" lengthAdjust="spacingAndGlyphs">Harvest Yields by Farmer and Vegetable</text>
<rect x="502.8" y="460.1" width="32.03" height="32.09" fill="#f7fcb9" stroke="#fff" stroke-width="0.5"/>
<text x="518.82" y="477.65" font-size="6.2" fill="#222" text-anchor="middle">0.8</text>
<rect x="534.83" y="460.1" width="32.03" height="32.09" fill="#aadc8d" stroke="#fff" stroke-width="0.5"/>
<text x="550.85" y="477.65" font-size="6.2" fill="#222" text-anchor="middle">2.4</text>
<rect x="566.86" y="460.1" width="32.03" height="32.09" fill="#a4d98a" stroke="#fff" stroke-width="0.5"/>
<text x="582.88" y="477.65" font-size="6.2" fill="#222" text-anchor="middle">2.5</text>
<rect x="598.89" y="460.1" width="32.03" height="32.09" fill="#44ac5e" stroke="#fff" stroke-width="0.5"/>
<text x="614.9" y="477.65" font-size="6.2" fill="#fff" text-anchor="middle">3.9</text>
<rect x="630.92" y="460.1" width="32.03" height="32.09" fill="#ffffe5" stroke="#fff" stroke-width="0.5"/>
<text x="646.93" y="477.65" font-size="6.2" fill="#222" text-anchor="middle">0.0</text>
<rect x="662.95" y="460.1" width="32.03" height="32.09" fill="#3fa85b" stroke="#fff" stroke-width="0.5"/>
<text x="678.97" y="477.65" font-size="6.2" fill="#fff" text-anchor="middle">4.0</text>
<rect x="694.98" y="460.1" width="32.03" height="32.09" fill="#ffffe5" stroke="#fff" stroke-width="0.5"/>
<text x="711" y="477.65" font-size="6.2" fill="#222" text-anchor="middle">0.0</text>
<text x="499" y="478.45" font-size="6.1" fill="#333" text-anchor="end">cucumber</text>
<rect x="502.8" y="492.19" width="32.03" height="32.09" fill="#aadc8d" stroke="#fff" stroke-width="0.5"/>
<text x="518.82" y="509.74" font-size="6.2" fill="#222" text-anchor="middle">2.4</text>
<rect x="534.83" y="492.19" width="32.03" height="32.09" fill="#ffffe5" stroke="#fff" stroke-width="0.5"/>
<text x="550.85" y="509.74" font-size="6.2" fill="#222" text-anchor="middle">0.0</text>
<rect x="566.86" y="492.19" width="32.03" height="32.09" fill="#3fa85b" stroke="#fff" stroke-width="0.5"/>
<text x="582.88" y="509.74" font-size="6.2" fill="#fff" text-anchor="middle">4.0</text>
<rect x="598.89" y="492.19" width="32.03" height="32.09" fill="#eff9b3" stroke="#fff" stroke-width="0.5"/>
<text x="614.9" y="509.74" font-size="6.2" fill="#222" text-anchor="middle">1.0</text>
<rect x="630.92" y="492.19" width="32.03" height="32.09" fill="#96d385" stroke="#fff" stroke-width="0.5"/>
<text x="646.93" y="509.74" font-size="6.2" fill="#222" text-anchor="middle">2.7</text>
<rect x="662.95" y="492.19" width="32.03" height="32.09" fill="#ffffe5" stroke="#fff" stroke-width="0.5"/>
<text x="678.97" y="509.74" font-size="6.2" fill="#222" text-anchor="middle">0.0</text>
<rect x="694.98" y="492.19" width="32.03" height="32.09" fill="#ffffe5" stroke="#fff" stroke-width="0.5"/>
<text x="711" y="509.74" font-size="6.2" fill="#222" text-anchor="middle">0.0</text>
<text x="499" y="510.54" font-size="6.1" fill="#333" text-anchor="end">tomato</text>
<rect x="502.8" y="524.28" width="32.03" height="32.09" fill="#ebf7b0" stroke="#fff" stroke-width="0.5"/>
<text x="518.82" y="541.83" font-size="6.2" fill="#222" text-anchor="middle">1.1</text>
<rect x="534.83" y="524.28" width="32.03" height="32.09" fill="#aadc8d" stroke="#fff" stroke-width="0.5"/>
<text x="550.85" y="541.83" font-size="6.2" fill="#222" text-anchor="middle">2.4</text>
<rect x="566.86" y="524.28" width="32.03" height="32.09" fill="#f7fcb9" stroke="#fff" stroke-width="0.5"/>
<text x="582.88" y="541.83" font-size="6.2" fill="#222" text-anchor="middle">0.8</text>
<rect x="598.89" y="524.28" width="32.03" height="32.09" fill="#339951" stroke="#fff" stroke-width="0.5"/>
<text x="614.9" y="541.83" font-size="6.2" fill="#fff" text-anchor="middle">4.3</text>
<rect x="630.92" y="524.28" width="32.03" height="32.09" fill="#c7e89a" stroke="#fff" stroke-width="0.5"/>
<text x="646.93" y="541.83" font-size="6.2" fill="#222" text-anchor="middle">1.9</text>
<rect x="662.95" y="524.28" width="32.03" height="32.09" fill="#2f944e" stroke="#fff" stroke-width="0.5"/>
<text x="678.97" y="541.83" font-size="6.2" fill="#fff" text-anchor="middle">4.4</text>
<rect x="694.98" y="524.28" width="32.03" height="32.09" fill="#ffffe5" stroke="#fff" stroke-width="0.5"/>
<text x="711" y="541.83" font-size="6.2" fill="#222" text-anchor="middle">0.0</text>
<text x="499" y="542.62" font-size="6.1" fill="#333" text-anchor="end">lettuce</text>
<rect x="502.8" y="556.37" width="32.03" height="32.09" fill="#f9fdc3" stroke="#fff" stroke-width="0.5"/>
<text x="518.82" y="573.92" font-size="6.2" fill="#222" text-anchor="middle">0.6</text>
<rect x="534.83" y="556.37" width="32.03" height="32.09" fill="#ffffe5" stroke="#fff" stroke-width="0.5"/>
<text x="550.85" y="573.92" font-size="6.2" fill="#222" text-anchor="middle">0.0</text>
<rect x="566.86" y="556.37" width="32.03" height="32.09" fill="#fcfed4" stroke="#fff" stroke-width="0.5"/>
<text x="582.88" y="573.92" font-size="6.2" fill="#222" text-anchor="middle">0.3</text>
<rect x="598.89" y="556.37" width="32.03" height="32.09" fill="#ffffe5" stroke="#fff" stroke-width="0.5"/>
<text x="614.9" y="573.92" font-size="6.2" fill="#222" text-anchor="middle">0.0</text>
<rect x="630.92" y="556.37" width="32.03" height="32.09" fill="#7bc77a" stroke="#fff" stroke-width="0.5"/>
<text x="646.93" y="573.92" font-size="6.2" fill="#222" text-anchor="middle">3.1</text>
<rect x="662.95" y="556.37" width="32.03" height="32.09" fill="#ffffe5" stroke="#fff" stroke-width="0.5"/>
<text x="678.97" y="573.92" font-size="6.2" fill="#222" text-anchor="middle">0.0</text>
<rect x="694.98" y="556.37" width="32.03" height="32.09" fill="#ffffe5" stroke="#fff" stroke-width="0.5"/>
<text x="711" y="573.92" font-size="6.2" fill="#222" text-anchor="middle">0.0</text>
<text x="499" y="574.72" font-size="6.1" fill="#333" text-anchor="end">asparagus</text>
<rect x="502.8" y="588.46" width="32.03" height="32.09" fill="#f8fcbe" stroke="#fff" stroke-width="0.5"/>
<text x="518.82" y="606.01" font-size="6.2" fill="#222" text-anchor="middle">0.7</text>
<rect x="534.83" y="588.46" width="32.03" height="32.09" fill="#d2eda0" stroke="#fff" stroke-width="0.5"/>
<text x="550.85" y="606.01" font-size="6.2" fill="#222" text-anchor="middle">1.7</text>
<rect x="566.86" y="588.46" width="32.03" height="32.09" fill="#f9fdc3" stroke="#fff" stroke-width="0.5"/>
<text x="582.88" y="606.01" font-size="6.2" fill="#222" text-anchor="middle">0.6</text>
<rect x="598.89" y="588.46" width="32.03" height="32.09" fill="#9dd688" stroke="#fff" stroke-width="0.5"/>
<text x="614.9" y="606.01" font-size="6.2" fill="#222" text-anchor="middle">2.6</text>
<rect x="630.92" y="588.46" width="32.03" height="32.09" fill="#b6e192" stroke="#fff" stroke-width="0.5"/>
<text x="646.93" y="606.01" font-size="6.2" fill="#222" text-anchor="middle">2.2</text>
<rect x="662.95" y="588.46" width="32.03" height="32.09" fill="#00492b" stroke="#fff" stroke-width="0.5"/>
<text x="678.97" y="606.01" font-size="6.2" fill="#fff" text-anchor="middle">6.2</text>
<rect x="694.98" y="588.46" width="32.03" height="32.09" fill="#ffffe5" stroke="#fff" stroke-width="0.5"/>
<text x="711" y="606.01" font-size="6.2" fill="#222" text-anchor="middle">0.0</text>
<text x="499" y="606.81" font-size="6.1" fill="#333" text-anchor="end">potato</text>
<rect x="502.8" y="620.55" width="32.03" height="32.09" fill="#e3f4ab" stroke="#fff" stroke-width="0.5"/>
<text x="518.82" y="638.1" font-size="6.2" fill="#222" text-anchor="middle">1.3</text>
<rect x="534.83" y="620.55" width="32.03" height="32.09" fill="#e7f6ad" stroke="#fff" stroke-width="0.5"/>
<text x="550.85" y="638.1" font-size="6.2" fill="#222" text-anchor="middle">1.2</text>
<rect x="566.86" y="620.55" width="32.03" height="32.09" fill="#ffffe5" stroke="#fff" stroke-width="0.5"/>
<text x="582.88" y="638.1" font-size="6.2" fill="#222" text-anchor="middle">0.0</text>
<rect x="598.89" y="620.55" width="32.03" height="32.09" fill="#ffffe5" stroke="#fff" stroke-width="0.5"/>
<text x="614.9" y="638.1" font-size="6.2" fill="#222" text-anchor="middle">0.0</text>
<rect x="630.92" y="620.55" width="32.03" height="32.09" fill="#ffffe5" stroke="#fff" stroke-width="0.5"/>
<text x="646.93" y="638.1" font-size="6.2" fill="#222" text-anchor="middle">0.0</text>
<rect x="662.95" y="620.55" width="32.03" height="32.09" fill="#75c477" stroke="#fff" stroke-width="0.5"/>
<text x="678.97" y="638.1" font-size="6.2" fill="#222" text-anchor="middle">3.2</text>
<rect x="694.98" y="620.55" width="32.03" height="32.09" fill="#12773d" stroke="#fff" stroke-width="0.5"/>
<text x="711" y="638.1" font-size="6.2" fill="#fff" text-anchor="middle">5.1</text>
<text x="499" y="638.89" font-size="6.1" fill="#333" text-anchor="end">wheat</text>
<rect x="502.8" y="652.64" width="32.03" height="32.09" fill="#feffdf" stroke="#fff" stroke-width="0.5"/>
<text x="518.82" y="670.19" font-size="6.2" fill="#222" text-anchor="middle">0.1</text>
<rect x="534.83" y="652.64" width="32.03" height="32.09" fill="#c1e698" stroke="#fff" stroke-width="0.5"/>
<text x="550.85" y="670.19" font-size="6.2" fill="#222" text-anchor="middle">2.0</text>
<rect x="566.86" y="652.64" width="32.03" height="32.09" fill="#ffffe5" stroke="#fff" stroke-width="0.5"/>
<text x="582.88" y="670.19" font-size="6.2" fill="#222" text-anchor="middle">0.0</text>
<rect x="598.89" y="652.64" width="32.03" height="32.09" fill="#e0f3a8" stroke="#fff" stroke-width="0.5"/>
<text x="614.9" y="670.19" font-size="6.2" fill="#222" text-anchor="middle">1.4</text>
<rect x="630.92" y="652.64" width="32.03" height="32.09" fill="#ffffe5" stroke="#fff" stroke-width="0.5"/>
<text x="646.93" y="670.19" font-size="6.2" fill="#222" text-anchor="middle">0.0</text>
<rect x="662.95" y="652.64" width="32.03" height="32.09" fill="#c7e89a" stroke="#fff" stroke-width="0.5"/>
<text x="678.97" y="670.19" font-size="6.2" fill="#222" text-anchor="middle">1.9</text>
<rect x="694.98" y="652.64" width="32.03" height="32.09" fill="#004529" stroke="#fff" stroke-width="0.5"/>
<text x="711" y="670.19" font-size="6.2" fill="#fff" text-anchor="middle">6.3</text>
<text x="499" y="670.99" font-size="6.1" fill="#333" text-anchor="end">barley</text>
<rect x="502.8" y="460.1" width="224.21" height="224.63" fill="none" stroke="#444" stroke-width="0.7"/>
<text x="522.42" y="690.33" font-size="6" fill="#333" text-anchor="end" transform="rotate(-45 522.42 690.33)">Farmer Joe</text>
<text x="554.45" y="690.33" font-size="6" fill="#333" text-anchor="end" transform="rotate(-45 554.45 690.33)">Upland Bros.</text>
<text x="586.48" y="690.33" font-size="6" fill="#333" text-anchor="end" transform="rotate(-45 586.48 690.33)">Smith Gardening</text>
<text x="618.5" y="690.33" font-size="6" fill="#333" text-anchor="end" transform="rotate(-45 618.5 690.33)">Agrifun</text>
<text x="650.53" y="690.33" font-size="6" fill="#333" text-anchor="end" transform="rotate(-45 650.53 690.33)">Organiculture</text>
<text x="682.57" y="690.33" font-size="6" fill="#333" text-anchor="end" transform="rotate(-45 682.57 690.33)">BioGoods Ltd.</text>
<text x="714.6" y="690.33" font-size="6" fill="#333" text-anchor="end" transform="rotate(-45 714.6 690.33)">Cornylee Corp.</text>
<defs><linearGradient id="g2r" x1="0" y1="0" x2="0" y2="1"><stop offset="0" stop-color="#004529"/><stop offset="0.12" stop-color="#006837"/><stop offset="0.25" stop-color="#238443"/><stop offset="0.38" stop-color="#41ab5d"/><stop offset="0.5" stop-color="#78c679"/><stop offset="0.62" stop-color="#addd8e"/><stop offset="0.75" stop-color="#d9f0a3"/><stop offset="0.88" stop-color="#f7fcb9"/><stop offset="1" stop-color="#ffffe5"/></linearGradient></defs>
<rect x="736.8" y="459.6" width="10.9" height="225.8" fill="url(#g2r)" stroke="#444" stroke-width="0.6"/>
<line x1="747.7" y1="685.4" x2="749.3" y2="685.4" stroke="#444" stroke-width="0.5"/>
<text x="751" y="687.3" font-size="5.4" fill="#333">0</text>
<line x1="747.7" y1="649.56" x2="749.3" y2="649.56" stroke="#444" stroke-width="0.5"/>
<text x="751" y="651.46" font-size="5.4" fill="#333">1</text>
<line x1="747.7" y1="613.72" x2="749.3" y2="613.72" stroke="#444" stroke-width="0.5"/>
<text x="751" y="615.62" font-size="5.4" fill="#333">2</text>
<line x1="747.7" y1="577.88" x2="749.3" y2="577.88" stroke="#444" stroke-width="0.5"/>
<text x="751" y="579.78" font-size="5.4" fill="#333">3</text>
<line x1="747.7" y1="542.03" x2="749.3" y2="542.03" stroke="#444" stroke-width="0.5"/>
<text x="751" y="543.93" font-size="5.4" fill="#333">4</text>
<line x1="747.7" y1="506.19" x2="749.3" y2="506.19" stroke="#444" stroke-width="0.5"/>
<text x="751" y="508.09" font-size="5.4" fill="#333">5</text>
<line x1="747.7" y1="470.35" x2="749.3" y2="470.35" stroke="#444" stroke-width="0.5"/>
<text x="751" y="472.25" font-size="5.4" fill="#333">6</text>
<text x="757.6" y="572" font-size="5.6" fill="#333" text-anchor="middle" transform="rotate(90 757.6 572)">Yield (Harvest Units)</text></g>
<g id="c3l"><text x="210.4" y="766.3" font-size="11.3" fill="#111" text-anchor="middle" font-weight="bold" textLength="177.7" lengthAdjust="spacingAndGlyphs">Player Performance Comparison</text>
<circle cx="210.2" cy="914.6" r="25.7" fill="none" stroke="#d0d0d0" stroke-width="0.7" stroke-dasharray="1.2 1.2"/>
<circle cx="210.2" cy="914.6" r="51.4" fill="none" stroke="#d0d0d0" stroke-width="0.7" stroke-dasharray="1.2 1.2"/>
<circle cx="210.2" cy="914.6" r="77.1" fill="none" stroke="#d0d0d0" stroke-width="0.7" stroke-dasharray="1.2 1.2"/>
<circle cx="210.2" cy="914.6" r="102.8" fill="none" stroke="#d0d0d0" stroke-width="0.7" stroke-dasharray="1.2 1.2"/>
<line x1="210.2" y1="914.6" x2="210.2" y2="786.1" stroke="#4d4d4d" stroke-width="0.8"/>
<line x1="210.2" y1="914.6" x2="301.06" y2="823.74" stroke="#4d4d4d" stroke-width="0.8"/>
<line x1="210.2" y1="914.6" x2="338.7" y2="914.6" stroke="#4d4d4d" stroke-width="0.8"/>
<line x1="210.2" y1="914.6" x2="301.06" y2="1005.46" stroke="#4d4d4d" stroke-width="0.8"/>
<line x1="210.2" y1="914.6" x2="210.2" y2="1043.1" stroke="#4d4d4d" stroke-width="0.8"/>
<line x1="210.2" y1="914.6" x2="119.34" y2="1005.46" stroke="#4d4d4d" stroke-width="0.8"/>
<line x1="210.2" y1="914.6" x2="81.7" y2="914.6" stroke="#4d4d4d" stroke-width="0.8"/>
<line x1="210.2" y1="914.6" x2="119.34" y2="823.74" stroke="#4d4d4d" stroke-width="0.8"/>
<circle cx="210.2" cy="914.6" r="128.5" fill="none" stroke="#3a3a3a" stroke-width="0.9"/>
<polygon points="210.2,805.38 264.72,860.08 313,914.6 265.63,970.03 210.2,966 134.78,990.02 125.39,914.6 142.05,846.45" fill="#2b6ea8" stroke="none" stroke-width="0" fill-opacity="0.42"/>
<polygon points="210.2,826.58 283.8,841 277.02,914.6 284.71,989.11 210.2,1034.11 156.59,968.21 103.54,914.6 136.6,841" fill="#f58518" stroke="none" stroke-width="0" fill-opacity="0.5"/>
<line x1="210.2" y1="914.6" x2="210.2" y2="786.1" stroke="#2e2e2e" stroke-width="0.8" stroke-opacity="0.5"/>
<line x1="210.2" y1="914.6" x2="301.06" y2="823.74" stroke="#2e2e2e" stroke-width="0.8" stroke-opacity="0.5"/>
<line x1="210.2" y1="914.6" x2="338.7" y2="914.6" stroke="#2e2e2e" stroke-width="0.8" stroke-opacity="0.5"/>
<line x1="210.2" y1="914.6" x2="301.06" y2="1005.46" stroke="#2e2e2e" stroke-width="0.8" stroke-opacity="0.5"/>
<line x1="210.2" y1="914.6" x2="210.2" y2="1043.1" stroke="#2e2e2e" stroke-width="0.8" stroke-opacity="0.5"/>
<line x1="210.2" y1="914.6" x2="119.34" y2="1005.46" stroke="#2e2e2e" stroke-width="0.8" stroke-opacity="0.5"/>
<line x1="210.2" y1="914.6" x2="81.7" y2="914.6" stroke="#2e2e2e" stroke-width="0.8" stroke-opacity="0.5"/>
<line x1="210.2" y1="914.6" x2="119.34" y2="823.74" stroke="#2e2e2e" stroke-width="0.8" stroke-opacity="0.5"/>
<polygon points="210.2,805.38 264.72,860.08 313,914.6 265.63,970.03 210.2,966 134.78,990.02 125.39,914.6 142.05,846.45" fill="none" stroke="#2b6ea8" stroke-width="2.3" stroke-linejoin="round"/>
<circle cx="210.2" cy="805.38" r="4.4" fill="#2b6ea8" stroke="#fff" stroke-width="0.9"/>
<circle cx="264.72" cy="860.08" r="4.4" fill="#2b6ea8" stroke="#fff" stroke-width="0.9"/>
<circle cx="313" cy="914.6" r="4.4" fill="#2b6ea8" stroke="#fff" stroke-width="0.9"/>
<circle cx="265.63" cy="970.03" r="4.4" fill="#2b6ea8" stroke="#fff" stroke-width="0.9"/>
<circle cx="210.2" cy="966" r="4.4" fill="#2b6ea8" stroke="#fff" stroke-width="0.9"/>
<circle cx="134.78" cy="990.02" r="4.4" fill="#2b6ea8" stroke="#fff" stroke-width="0.9"/>
<circle cx="125.39" cy="914.6" r="4.4" fill="#2b6ea8" stroke="#fff" stroke-width="0.9"/>
<circle cx="142.05" cy="846.45" r="4.4" fill="#2b6ea8" stroke="#fff" stroke-width="0.9"/>
<clipPath id="cpB"><polygon points="210.2,826.58 283.8,841 277.02,914.6 284.71,989.11 210.2,1034.11 156.59,968.21 103.54,914.6 136.6,841"/></clipPath>
<g clip-path="url(#cpB)">
<polygon points="210.2,805.38 264.72,860.08 313,914.6 265.63,970.03 210.2,966 134.78,990.02 125.39,914.6 142.05,846.45" fill="none" stroke="#83807c" stroke-width="2.3" stroke-linejoin="round"/>
<circle cx="210.2" cy="805.38" r="4.4" fill="#7c7c7e" stroke="#f3ead9" stroke-width="0.9"/>
<circle cx="264.72" cy="860.08" r="4.4" fill="#7c7c7e" stroke="#f3ead9" stroke-width="0.9"/>
<circle cx="313" cy="914.6" r="4.4" fill="#7c7c7e" stroke="#f3ead9" stroke-width="0.9"/>
<circle cx="265.63" cy="970.03" r="4.4" fill="#7c7c7e" stroke="#f3ead9" stroke-width="0.9"/>
<circle cx="210.2" cy="966" r="4.4" fill="#7c7c7e" stroke="#f3ead9" stroke-width="0.9"/>
<circle cx="134.78" cy="990.02" r="4.4" fill="#7c7c7e" stroke="#f3ead9" stroke-width="0.9"/>
<circle cx="125.39" cy="914.6" r="4.4" fill="#7c7c7e" stroke="#f3ead9" stroke-width="0.9"/>
<circle cx="142.05" cy="846.45" r="4.4" fill="#7c7c7e" stroke="#f3ead9" stroke-width="0.9"/>
</g>
<polygon points="210.2,826.58 283.8,841 277.02,914.6 284.71,989.11 210.2,1034.11 156.59,968.21 103.54,914.6 136.6,841" fill="none" stroke="#f58518" stroke-width="2.3" stroke-linejoin="round"/>
<rect x="206.3" y="822.68" width="7.8" height="7.8" fill="#f58518" stroke="#fff" stroke-width="0.9"/>
<rect x="279.9" y="837.1" width="7.8" height="7.8" fill="#f58518" stroke="#fff" stroke-width="0.9"/>
<rect x="273.12" y="910.7" width="7.8" height="7.8" fill="#f58518" stroke="#fff" stroke-width="0.9"/>
<rect x="280.81" y="985.21" width="7.8" height="7.8" fill="#f58518" stroke="#fff" stroke-width="0.9"/>
<rect x="206.3" y="1030.2" width="7.8" height="7.8" fill="#f58518" stroke="#fff" stroke-width="0.9"/>
<rect x="152.69" y="964.31" width="7.8" height="7.8" fill="#f58518" stroke="#fff" stroke-width="0.9"/>
<rect x="99.64" y="910.7" width="7.8" height="7.8" fill="#f58518" stroke="#fff" stroke-width="0.9"/>
<rect x="132.7" y="837.1" width="7.8" height="7.8" fill="#f58518" stroke="#fff" stroke-width="0.9"/>
<rect x="211.5" y="908.9" width="12.4" height="8.8" fill="#fff" fill-opacity="0.7" rx="1.2"/>
<text x="217.7" y="916.1" font-size="7.4" fill="#3a3a3a" text-anchor="middle">0.0</text>
<rect x="235.3" y="898.3" width="12.4" height="8.8" fill="#fff" fill-opacity="0.7" rx="1.2"/>
<text x="241.5" y="905.5" font-size="7.4" fill="#3a3a3a" text-anchor="middle">0.2</text>
<rect x="259.1" y="888.9" width="12.4" height="8.8" fill="#fff" fill-opacity="0.7" rx="1.2"/>
<text x="265.3" y="896.1" font-size="7.4" fill="#3a3a3a" text-anchor="middle">0.4</text>
<text x="289.8" y="886.6" font-size="7.4" fill="#3a3a3a" text-anchor="middle">0.6</text>
<text x="313.2" y="876.4" font-size="7.4" fill="#3a3a3a" text-anchor="middle">0.8</text>
<text x="337" y="867" font-size="7.4" fill="#3a3a3a" text-anchor="middle">1.0</text>
<text x="210.2" y="781.2" font-size="7.9" fill="#4f4f4f" text-anchor="middle">Shooting Accuracy</text>
<text x="310.2" y="816.6" font-size="7.9" fill="#4f4f4f" text-anchor="middle">Assists</text>
<text x="332" y="917.4" font-size="7.9" fill="#4f4f4f" textLength="37" lengthAdjust="spacingAndGlyphs">Rebounds</text>
<text x="312.5" y="1014.8" font-size="8.1" fill="#4f4f4f" text-anchor="middle">Steals</text>
<text x="210.2" y="1054.4" font-size="7.9" fill="#4f4f4f" text-anchor="middle">Blocks</text>
<text x="105.7" y="1014.8" font-size="8.1" fill="#4f4f4f" text-anchor="middle">Stamina</text>
<text x="78.5" y="917.4" font-size="7.9" fill="#4f4f4f" text-anchor="end">Speed</text>
<text x="106.4" y="816.6" font-size="7.9" fill="#4f4f4f" text-anchor="middle">Free Throws</text>
<rect x="264.2" y="887.4" width="66.8" height="55.9" fill="none" stroke="#ea3a55" stroke-width="0.9"/>
<rect x="305.7" y="774" width="57.8" height="25.2" fill="#fff" stroke="#d4d4d4" stroke-width="0.8" rx="1.5" fill-opacity="0.9"/>
<line x1="308.3" y1="781" x2="325.2" y2="781" stroke="#2b6ea8" stroke-width="2"/>
<circle cx="316.8" cy="781" r="3.6" fill="#2b6ea8"/>
<line x1="308.3" y1="792.3" x2="325.2" y2="792.3" stroke="#f58518" stroke-width="2"/>
<rect x="313.4" y="788.9" width="6.8" height="6.8" fill="#f58518"/>
<text x="330.8" y="783.8" font-size="7.8" fill="#222">Player A</text>
<text x="330.8" y="795.1" font-size="7.8" fill="#222">Player B</text></g>
<g id="c3r"><text x="612.8" y="763.7" font-size="9.2" fill="#333" text-anchor="middle" font-weight="bold" textLength="139.3" lengthAdjust="spacingAndGlyphs">Player Performance Comparison</text>
<circle cx="613" cy="914.2" r="25.4" fill="none" stroke="#e6e6e6" stroke-width="0.6" stroke-dasharray="1 1.2"/>
<circle cx="613" cy="914.2" r="50.8" fill="none" stroke="#e6e6e6" stroke-width="0.6" stroke-dasharray="1 1.2"/>
<circle cx="613" cy="914.2" r="76.2" fill="none" stroke="#e6e6e6" stroke-width="0.6" stroke-dasharray="1 1.2"/>
<circle cx="613" cy="914.2" r="101.6" fill="none" stroke="#e6e6e6" stroke-width="0.6" stroke-dasharray="1 1.2"/>
<line x1="613" y1="914.2" x2="613" y2="787.2" stroke="#dedede" stroke-width="0.6" stroke-dasharray="1 1.2"/>
<line x1="613" y1="914.2" x2="702.8" y2="824.4" stroke="#dedede" stroke-width="0.6" stroke-dasharray="1 1.2"/>
<line x1="613" y1="914.2" x2="740" y2="914.2" stroke="#dedede" stroke-width="0.6" stroke-dasharray="1 1.2"/>
<line x1="613" y1="914.2" x2="702.8" y2="1004" stroke="#dedede" stroke-width="0.6" stroke-dasharray="1 1.2"/>
<line x1="613" y1="914.2" x2="613" y2="1041.2" stroke="#dedede" stroke-width="0.6" stroke-dasharray="1 1.2"/>
<line x1="613" y1="914.2" x2="523.2" y2="1004" stroke="#dedede" stroke-width="0.6" stroke-dasharray="1 1.2"/>
<line x1="613" y1="914.2" x2="486" y2="914.2" stroke="#dedede" stroke-width="0.6" stroke-dasharray="1 1.2"/>
<line x1="613" y1="914.2" x2="523.2" y2="824.4" stroke="#dedede" stroke-width="0.6" stroke-dasharray="1 1.2"/>
<circle cx="613" cy="914.2" r="127" fill="none" stroke="#a0a0a0" stroke-width="0.8"/>
<polygon points="613,811.33 672.9,854.3 691.74,914.2 689.96,991.16 613,980.88 536.67,990.53 519.02,914.2 544.75,845.95" fill="#2f7cba" stroke="#2f7cba" stroke-width="1.8" fill-opacity="0.2" stroke-linejoin="round"/>
<polygon points="613,824.03 681.25,845.95 697.46,914.2 664.19,965.39 613,1010.72 547.8,979.4 506.32,914.2 540.26,841.46" fill="#f58f2a" stroke="#f58f2a" stroke-width="1.8" fill-opacity="0.2" stroke-linejoin="round"/>
<circle cx="613" cy="811.33" r="2.6" fill="#2f7cba" stroke="#fff" stroke-width="0.6"/>
<circle cx="672.9" cy="854.3" r="2.6" fill="#2f7cba" stroke="#fff" stroke-width="0.6"/>
<circle cx="691.74" cy="914.2" r="2.6" fill="#2f7cba" stroke="#fff" stroke-width="0.6"/>
<circle cx="689.96" cy="991.16" r="2.6" fill="#2f7cba" stroke="#fff" stroke-width="0.6"/>
<circle cx="613" cy="980.88" r="2.6" fill="#2f7cba" stroke="#fff" stroke-width="0.6"/>
<circle cx="536.67" cy="990.53" r="2.6" fill="#2f7cba" stroke="#fff" stroke-width="0.6"/>
<circle cx="519.02" cy="914.2" r="2.6" fill="#2f7cba" stroke="#fff" stroke-width="0.6"/>
<circle cx="544.75" cy="845.95" r="2.6" fill="#2f7cba" stroke="#fff" stroke-width="0.6"/>
<rect x="610.5" y="821.53" width="5" height="5" fill="#f58f2a" stroke="#fff" stroke-width="0.6"/>
<rect x="678.75" y="843.45" width="5" height="5" fill="#f58f2a" stroke="#fff" stroke-width="0.6"/>
<rect x="694.96" y="911.7" width="5" height="5" fill="#f58f2a" stroke="#fff" stroke-width="0.6"/>
<rect x="661.69" y="962.89" width="5" height="5" fill="#f58f2a" stroke="#fff" stroke-width="0.6"/>
<rect x="610.5" y="1008.22" width="5" height="5" fill="#f58f2a" stroke="#fff" stroke-width="0.6"/>
<rect x="545.3" y="976.9" width="5" height="5" fill="#f58f2a" stroke="#fff" stroke-width="0.6"/>
<rect x="503.82" y="911.7" width="5" height="5" fill="#f58f2a" stroke="#fff" stroke-width="0.6"/>
<rect x="537.76" y="838.96" width="5" height="5" fill="#f58f2a" stroke="#fff" stroke-width="0.6"/>
<text x="633.4" y="896.3" font-size="4.8" fill="#999" text-anchor="middle">0.2</text>
<text x="650.8" y="879.3" font-size="4.8" fill="#999" text-anchor="middle">0.4</text>
<text x="667.7" y="861.6" font-size="4.8" fill="#999" text-anchor="middle">0.6</text>
<text x="684.7" y="844.6" font-size="4.8" fill="#999" text-anchor="middle">0.8</text>
<text x="702" y="827.6" font-size="4.8" fill="#999" text-anchor="middle">1.0</text>
<text x="612.6" y="775.1" font-size="6.7" fill="#222" text-anchor="middle">Shooting Accuracy</text>
<text x="713" y="816.2" font-size="6.7" fill="#222" text-anchor="middle">Assists</text>
<text x="740.6" y="916.6" font-size="6.7" fill="#222">Rebounds</text>
<text x="713" y="1016.2" font-size="6.7" fill="#222" text-anchor="middle">Steals</text>
<text x="612.6" y="1058.1" font-size="6.7" fill="#222" text-anchor="middle">Blocks</text>
<text x="512.6" y="1016.2" font-size="6.7" fill="#222" text-anchor="middle">Stamina</text>
<text x="480.9" y="916.6" font-size="6.7" fill="#222" text-anchor="end">Speed</text>
<text x="512.6" y="816.2" font-size="6.7" fill="#222" text-anchor="middle">Free Throws</text>
<line x1="736.8" y1="768.9" x2="747.7" y2="768.9" stroke="#2f7cba" stroke-width="1.7"/>
<line x1="736.8" y1="777.2" x2="747.7" y2="777.2" stroke="#f58f2a" stroke-width="1.7"/>
<text x="752.3" y="770.8" font-size="5.4" fill="#222">Player A</text>
<text x="752.3" y="779.1" font-size="5.4" fill="#222">Player B</text></g>
<g id="c4l"><text x="208.3" y="1102.8" font-size="10.4" fill="#111" text-anchor="middle" font-weight="bold" textLength="124.6" lengthAdjust="spacingAndGlyphs">Business Data Analysis</text>
<text x="116.8" y="1117.9" font-size="7.9" fill="#111" text-anchor="middle" font-weight="bold" textLength="115" lengthAdjust="spacingAndGlyphs">Sales Distribution by Region</text>
<text x="296.6" y="1117.9" font-size="7.9" fill="#111" text-anchor="middle" font-weight="bold" textLength="165.2" lengthAdjust="spacingAndGlyphs">Customer Satisfaction Ratings by Region</text>
<rect x="35.1" y="1121.7" width="93.6" height="122.6" fill="#476ca9"/>
<rect x="35.1" y="1246.2" width="93.6" height="38.9" fill="#55a56a" stroke="#e8465c" stroke-width="0.9"/>
<rect x="130.6" y="1121.7" width="68.3" height="94.7" fill="#da8251"/>
<rect x="130.6" y="1218.3" width="41.5" height="36.6" fill="#3f8c4e" stroke="#e8465c" stroke-width="0.9"/>
<rect x="173.6" y="1218.3" width="25.3" height="36.6" fill="#c24d53"/>
<rect x="130.6" y="1256.8" width="46.8" height="28.3" fill="#8071b1"/>
<rect x="179.2" y="1256.8" width="19.7" height="28.3" fill="#917660"/>
<text x="81.9" y="1181.52" font-size="7.4" fill="#f3f3f3" text-anchor="middle">North</text><text x="81.9" y="1189.81" font-size="7.4" fill="#f3f3f3" text-anchor="middle">50</text>
<text x="81.9" y="1264.12" font-size="7.4" fill="#f3f3f3" text-anchor="middle">East</text><text x="81.9" y="1272.41" font-size="7.4" fill="#f3f3f3" text-anchor="middle">10</text>
<text x="164.7" y="1167.02" font-size="7.4" fill="#f3f3f3" text-anchor="middle">South</text><text x="164.7" y="1175.31" font-size="7.4" fill="#f3f3f3" text-anchor="middle">30</text>
<text x="151.3" y="1235.12" font-size="7.4" fill="#f3f3f3" text-anchor="middle">East</text><text x="151.3" y="1243.41" font-size="7.4" fill="#f3f3f3" text-anchor="middle">10</text>
<text x="186.2" y="1235.12" font-size="7.4" fill="#f3f3f3" text-anchor="middle">West</text><text x="186.2" y="1243.41" font-size="7.4" fill="#f3f3f3" text-anchor="middle">5</text>
<text x="154" y="1269.42" font-size="7.4" fill="#f3f3f3" text-anchor="middle">Central</text><text x="154" y="1277.71" font-size="7.4" fill="#f3f3f3" text-anchor="middle">3</text>
<text x="189" y="1269.35" font-size="5.7" fill="#f3f3f3" text-anchor="middle">Others</text><text x="189" y="1276.55" font-size="5.7" fill="#f3f3f3" text-anchor="middle">2</text>
<path d="M295.2,1202.5 L295.2,1137.7 A64.8,64.8 0 0 1 346.47,1162.87 Z" fill="#55a56a" stroke="#fff" stroke-width="1.5" stroke-linejoin="round"/>
<path d="M295.2,1202.5 L346.47,1162.87 A64.8,64.8 0 0 1 359.39,1193.59 Z" fill="#c24d53" stroke="#fff" stroke-width="1.5" stroke-linejoin="round"/>
<path d="M295.2,1202.5 L359.39,1193.59 A64.8,64.8 0 0 1 358.61,1215.86 Z" fill="#8071b1" stroke="#fff" stroke-width="1.5" stroke-linejoin="round"/>
<path d="M295.2,1202.5 L358.61,1215.86 A64.8,64.8 0 0 1 257.66,1255.32 Z" fill="#da8251" stroke="#fff" stroke-width="1.5" stroke-linejoin="round"/>
<path d="M295.2,1202.5 L257.66,1255.32 A64.8,64.8 0 0 1 295.2,1137.7 Z" fill="#476ca9" stroke="#fff" stroke-width="1.5" stroke-linejoin="round"/>
<text x="338.9" y="1136.41" font-size="6.7" fill="#111" text-anchor="middle" font-weight="bold">East</text><text x="338.9" y="1144.21" font-size="6.7" fill="#111" text-anchor="middle" font-weight="bold">15.0%</text>
<text x="369.3" y="1173.11" font-size="6.7" fill="#111" text-anchor="middle" font-weight="bold">West</text><text x="369.3" y="1180.91" font-size="6.7" fill="#111" text-anchor="middle" font-weight="bold">10.0%</text>
<text x="375.6" y="1204.21" font-size="6.7" fill="#111" text-anchor="middle" font-weight="bold">Central</text><text x="375.6" y="1212.01" font-size="6.7" fill="#111" text-anchor="middle" font-weight="bold">5.0%</text>
<text x="330.3" y="1270.91" font-size="6.7" fill="#111" text-anchor="middle" font-weight="bold">South</text><text x="330.3" y="1278.71" font-size="6.7" fill="#111" text-anchor="middle" font-weight="bold">30.0%</text>
<text x="218.5" y="1182.51" font-size="6.7" fill="#111" text-anchor="middle" font-weight="bold">North</text><text x="218.5" y="1190.31" font-size="6.7" fill="#111" text-anchor="middle" font-weight="bold">40.0%</text></g>
<g id="c4r"><text x="615.5" y="1099.1" font-size="8.4" fill="#333" text-anchor="middle" font-weight="bold" textLength="96.2" lengthAdjust="spacingAndGlyphs">Business Data Analysis</text>
<text x="510.2" y="1109.6" font-size="6.4" fill="#333" text-anchor="middle" font-weight="bold" textLength="91" lengthAdjust="spacingAndGlyphs">Sales Distribution by Region</text>
<text x="721" y="1109.6" font-size="6.4" fill="#333" text-anchor="middle" font-weight="bold" textLength="132" lengthAdjust="spacingAndGlyphs">Customer Satisfaction Ratings by Region</text>
<rect x="429.6" y="1119.8" width="79.6" height="164.2" fill="#4e79a7"/>
<rect x="510.8" y="1119.8" width="39.2" height="64.5" fill="#e15759"/>
<rect x="551.5" y="1119.8" width="22.7" height="31.7" fill="#59a14f"/>
<rect x="575.7" y="1119.8" width="15.1" height="31.7" fill="#edc948"/>
<rect x="551.5" y="1153" width="39.3" height="31.3" fill="#76b7b2"/>
<rect x="510.8" y="1185.8" width="80" height="98.2" fill="#f28e2b"/>
<text x="469.4" y="1200.52" font-size="5.6" fill="#fff" text-anchor="middle" font-weight="bold">North</text><text x="469.4" y="1206.72" font-size="5.6" fill="#fff" text-anchor="middle" font-weight="bold">50</text>
<text x="550.5" y="1233.52" font-size="5.6" fill="#fff" text-anchor="middle" font-weight="bold">South</text><text x="550.5" y="1239.72" font-size="5.6" fill="#fff" text-anchor="middle" font-weight="bold">30</text>
<text x="530.3" y="1151.46" font-size="4.6" fill="#fff" text-anchor="middle" font-weight="bold">East</text><text x="530.3" y="1156.66" font-size="4.6" fill="#fff" text-anchor="middle" font-weight="bold">10</text>
<text x="571" y="1167.84" font-size="4" fill="#222" text-anchor="middle" font-weight="bold">West</text><text x="571" y="1172.64" font-size="4" fill="#222" text-anchor="middle" font-weight="bold">5</text>
<text x="562.8" y="1134.98" font-size="3" fill="#fff" text-anchor="middle">Central</text><text x="562.8" y="1138.78" font-size="3" fill="#fff" text-anchor="middle">3</text>
<text x="583.2" y="1134.98" font-size="3" fill="#222" text-anchor="middle" font-weight="bold">Others</text><text x="583.2" y="1138.78" font-size="3" fill="#222" text-anchor="middle" font-weight="bold">2</text>
<path d="M721.3,1202.2 L721.3,1127 A75.2,75.2 0 0 1 744.54,1130.68 Z" fill="#59a14f" stroke="#fff" stroke-width="0.9" stroke-linejoin="round"/>
<path d="M721.3,1202.2 L744.54,1130.68 A75.2,75.2 0 0 1 782.14,1158 Z" fill="#76b7b2" stroke="#fff" stroke-width="0.9" stroke-linejoin="round"/>
<path d="M721.3,1202.2 L782.14,1158 A75.2,75.2 0 0 1 792.82,1225.44 Z" fill="#e15759" stroke="#fff" stroke-width="0.9" stroke-linejoin="round"/>
<path d="M721.3,1202.2 L792.82,1225.44 A75.2,75.2 0 0 1 677.1,1263.04 Z" fill="#f28e2b" stroke="#fff" stroke-width="0.9" stroke-linejoin="round"/>
<path d="M721.3,1202.2 L677.1,1263.04 A75.2,75.2 0 0 1 721.3,1127 Z" fill="#4e79a7" stroke="#fff" stroke-width="0.9" stroke-linejoin="round"/>
<text x="733.6" y="1119.25" font-size="4.9" fill="#222">Central</text><text x="733.6" y="1124.65" font-size="4.9" fill="#222">5%</text>
<text x="769.5" y="1133.95" font-size="4.9" fill="#222">West</text><text x="769.5" y="1139.35" font-size="4.9" fill="#222">10%</text>
<text x="802.9" y="1187.95" font-size="4.9" fill="#222">East</text><text x="802.9" y="1193.35" font-size="4.9" fill="#222">15%</text>
<text x="747" y="1279.25" font-size="4.9" fill="#222">South</text><text x="747" y="1284.65" font-size="4.9" fill="#222">30%</text>
<text x="641.9" y="1175.45" font-size="4.9" fill="#222" text-anchor="end">North</text><text x="641.9" y="1180.85" font-size="4.9" fill="#222" text-anchor="end">40%</text></g>
<g id="c5l"><text x="214.7" y="1326.3" font-size="9.8" fill="#111" text-anchor="middle" font-weight="bold" textLength="121.5" lengthAdjust="spacingAndGlyphs">Scientific Study Analysis</text>
<text x="120.4" y="1342.5" font-size="7.4" fill="#111" text-anchor="middle" font-weight="bold" textLength="140.4" lengthAdjust="spacingAndGlyphs">Distribution of Scientific Article Types</text>
<line x1="44.5" y1="1436.26" x2="194.3" y2="1436.26" stroke="#dcdcdc" stroke-width="0.6" stroke-dasharray="1 1"/>
<line x1="44.5" y1="1410.32" x2="194.3" y2="1410.32" stroke="#dcdcdc" stroke-width="0.6" stroke-dasharray="1 1"/>
<line x1="44.5" y1="1384.38" x2="194.3" y2="1384.38" stroke="#dcdcdc" stroke-width="0.6" stroke-dasharray="1 1"/>
<line x1="44.5" y1="1358.44" x2="194.3" y2="1358.44" stroke="#dcdcdc" stroke-width="0.6" stroke-dasharray="1 1"/>
<rect x="52.1" y="1350.79" width="37.7" height="111.41" fill="#4c72b0" stroke="#1f1f1f" stroke-width="0.8"/>
<rect x="100" y="1371.15" width="37.7" height="91.05" fill="#dd8452" stroke="#1f1f1f" stroke-width="0.8"/>
<rect x="147.9" y="1397.35" width="37.8" height="64.85" fill="#55a868" stroke="#1f1f1f" stroke-width="0.8"/>
<line x1="44.5" y1="1345.2" x2="44.5" y2="1462.2" stroke="#333" stroke-width="0.8"/>
<line x1="44.5" y1="1462.2" x2="194.3" y2="1462.2" stroke="#333" stroke-width="0.8"/>
<line x1="42.5" y1="1462.2" x2="44.5" y2="1462.2" stroke="#333" stroke-width="0.6"/>
<text x="41.8" y="1464.6" font-size="6.6" fill="#222" text-anchor="end">0.0</text>
<line x1="42.5" y1="1436.26" x2="44.5" y2="1436.26" stroke="#333" stroke-width="0.6"/>
<text x="41.8" y="1438.66" font-size="6.6" fill="#222" text-anchor="end">0.1</text>
<line x1="42.5" y1="1410.32" x2="44.5" y2="1410.32" stroke="#333" stroke-width="0.6"/>
<text x="41.8" y="1412.72" font-size="6.6" fill="#222" text-anchor="end">0.2</text>
<line x1="42.5" y1="1384.38" x2="44.5" y2="1384.38" stroke="#333" stroke-width="0.6"/>
<text x="41.8" y="1386.78" font-size="6.6" fill="#222" text-anchor="end">0.3</text>
<line x1="42.5" y1="1358.44" x2="44.5" y2="1358.44" stroke="#333" stroke-width="0.6"/>
<text x="41.8" y="1360.84" font-size="6.6" fill="#222" text-anchor="end">0.4</text>
<line x1="70.9" y1="1462.2" x2="70.9" y2="1464.2" stroke="#333" stroke-width="0.6"/>
<text x="70.9" y="1470.2" font-size="6" fill="#222" text-anchor="middle">Clinical</text>
<line x1="118.9" y1="1462.2" x2="118.9" y2="1464.2" stroke="#333" stroke-width="0.6"/>
<text x="118.9" y="1470.2" font-size="6" fill="#222" text-anchor="middle">Theoretical</text>
<line x1="166.8" y1="1462.2" x2="166.8" y2="1464.2" stroke="#333" stroke-width="0.6"/>
<text x="166.8" y="1470.2" font-size="6" fill="#222" text-anchor="middle">Applied</text>
<text x="118.9" y="1477.8" font-size="7" fill="#222" text-anchor="middle">Article Type</text>
<text x="29.2" y="1402.6" font-size="6.8" fill="#222" text-anchor="middle" transform="rotate(-90 29.2 1402.6)" textLength="54" lengthAdjust="spacingAndGlyphs">Article Proportion</text>
<rect x="47.5" y="1345.2" width="46.8" height="19.2" fill="none" stroke="#ef6b80" stroke-width="0.8"/>
<text x="311" y="1342.5" font-size="7.4" fill="#111" text-anchor="middle" font-weight="bold" textLength="97.3" lengthAdjust="spacingAndGlyphs">Study Outcomes Heatmap</text>
<rect x="241.5" y="1345.9" width="34.25" height="38.77" fill="#3d85bb" stroke="#f4f4ec" stroke-width="0.7"/>
<text x="258.62" y="1367.88" font-size="7.4" fill="#fff" text-anchor="middle" font-weight="bold">0.6</text>
<rect x="275.75" y="1345.9" width="34.25" height="38.77" fill="#deea9e" stroke="#f4f4ec" stroke-width="0.7"/>
<text x="292.88" y="1367.88" font-size="7.4" fill="#1a1a1a" text-anchor="middle" font-weight="bold">0.2</text>
<rect x="310" y="1345.9" width="34.25" height="38.77" fill="#7dc59f" stroke="#f4f4ec" stroke-width="0.7"/>
<text x="327.12" y="1367.88" font-size="7.4" fill="#1a1a1a" text-anchor="middle" font-weight="bold">0.4</text>
<rect x="344.25" y="1345.9" width="34.25" height="38.77" fill="#f6f5c2" stroke="#f4f4ec" stroke-width="0.7"/>
<text x="361.38" y="1367.88" font-size="7.4" fill="#1a1a1a" text-anchor="middle" font-weight="bold">0.1</text>
<text x="239.6" y="1367.49" font-size="5.9" fill="#222" text-anchor="end">Hypothesis 1</text>
<rect x="241.5" y="1384.67" width="34.25" height="38.77" fill="#deea9e" stroke="#f4f4ec" stroke-width="0.7"/>
<text x="258.62" y="1406.65" font-size="7.4" fill="#1a1a1a" text-anchor="middle" font-weight="bold">0.2</text>
<rect x="275.75" y="1384.67" width="34.25" height="38.77" fill="#234f96" stroke="#f4f4ec" stroke-width="0.7"/>
<text x="292.88" y="1406.65" font-size="7.4" fill="#fff" text-anchor="middle" font-weight="bold">0.5</text>
<rect x="310" y="1384.67" width="34.25" height="38.77" fill="#b6dc9d" stroke="#f4f4ec" stroke-width="0.7"/>
<text x="327.12" y="1406.65" font-size="7.4" fill="#1a1a1a" text-anchor="middle" font-weight="bold">0.3</text>
<rect x="344.25" y="1384.67" width="34.25" height="38.77" fill="#7dc59f" stroke="#f4f4ec" stroke-width="0.7"/>
<text x="361.38" y="1406.65" font-size="7.4" fill="#1a1a1a" text-anchor="middle" font-weight="bold">0.4</text>
<text x="239.6" y="1406.26" font-size="5.9" fill="#222" text-anchor="end">Hypothesis 2</text>
<rect x="241.5" y="1423.44" width="34.25" height="38.77" fill="#b6dc9d" stroke="#f4f4ec" stroke-width="0.7"/>
<text x="258.62" y="1445.42" font-size="7.4" fill="#1a1a1a" text-anchor="middle" font-weight="bold">0.3</text>
<rect x="275.75" y="1423.44" width="34.25" height="38.77" fill="#f6f5c2" stroke="#f4f4ec" stroke-width="0.7"/>
<text x="292.88" y="1445.42" font-size="7.4" fill="#1a1a1a" text-anchor="middle" font-weight="bold">0.1</text>
<rect x="310" y="1423.44" width="34.25" height="38.77" fill="#3d85bb" stroke="#f4f4ec" stroke-width="0.7"/>
<text x="327.12" y="1445.42" font-size="7.4" fill="#fff" text-anchor="middle" font-weight="bold">0.6</text>
<rect x="344.25" y="1423.44" width="34.25" height="38.77" fill="#deea9e" stroke="#f4f4ec" stroke-width="0.7"/>
<text x="361.38" y="1445.42" font-size="7.4" fill="#1a1a1a" text-anchor="middle" font-weight="bold">0.2</text>
<text x="239.6" y="1445.03" font-size="5.9" fill="#222" text-anchor="end">Hypothesis 3</text>
<text x="258.62" y="1470.2" font-size="6" fill="#222" text-anchor="middle">Outcome A</text>
<text x="292.88" y="1470.2" font-size="6" fill="#222" text-anchor="middle">Outcome B</text>
<text x="327.12" y="1470.2" font-size="6" fill="#222" text-anchor="middle">Outcome C</text>
<text x="361.38" y="1470.2" font-size="6" fill="#222" text-anchor="middle">Outcome D</text>
<text x="310.2" y="1477.8" font-size="7" fill="#222" text-anchor="middle">Outcomes</text>
<text x="203.6" y="1404.4" font-size="7" fill="#222" text-anchor="middle" transform="rotate(-90 203.6 1404.4)">Study Outcomes</text>
<defs><linearGradient id="g5l" x1="0" y1="0" x2="0" y2="1"><stop offset="0" stop-color="#1f3f90"/><stop offset="0.1" stop-color="#2a5aa6"/><stop offset="0.19" stop-color="#3277b8"/><stop offset="0.29" stop-color="#3f93be"/><stop offset="0.38" stop-color="#4cadb6"/><stop offset="0.48" stop-color="#72c1a8"/><stop offset="0.57" stop-color="#9dd4a1"/><stop offset="0.76" stop-color="#d3e9a0"/><stop offset="0.95" stop-color="#f6f4c0"/><stop offset="1" stop-color="#f6f4c0"/></linearGradient></defs>
<rect x="388.7" y="1345.9" width="6.8" height="116.31" fill="url(#g5l)"/>
<line x1="395.5" y1="1345.7" x2="396.8" y2="1345.7" stroke="#333" stroke-width="0.5"/>
<text x="397.6" y="1347.8" font-size="5.6" fill="#222">0.6</text>
<line x1="395.5" y1="1367.95" x2="396.8" y2="1367.95" stroke="#333" stroke-width="0.5"/>
<text x="397.6" y="1370.05" font-size="5.6" fill="#222">0.5</text>
<line x1="395.5" y1="1390.2" x2="396.8" y2="1390.2" stroke="#333" stroke-width="0.5"/>
<text x="397.6" y="1392.3" font-size="5.6" fill="#222">0.4</text>
<line x1="395.5" y1="1412.45" x2="396.8" y2="1412.45" stroke="#333" stroke-width="0.5"/>
<text x="397.6" y="1414.55" font-size="5.6" fill="#222">0.3</text>
<line x1="395.5" y1="1434.7" x2="396.8" y2="1434.7" stroke="#333" stroke-width="0.5"/>
<text x="397.6" y="1436.8" font-size="5.6" fill="#222">0.2</text>
<line x1="395.5" y1="1456.95" x2="396.8" y2="1456.95" stroke="#333" stroke-width="0.5"/>
<text x="397.6" y="1459.05" font-size="5.6" fill="#222">0.1</text></g>
<g id="c5r"><text x="622.3" y="1324.8" font-size="8.3" fill="#111" text-anchor="middle" font-weight="bold" textLength="97.7" lengthAdjust="spacingAndGlyphs">Scientific Study Analysis</text>
<text x="526.4" y="1349.8" font-size="6.3" fill="#111" text-anchor="middle" font-weight="bold" textLength="115.8" lengthAdjust="spacingAndGlyphs">Distribution of Scientific Article Types</text>
<line x1="447.7" y1="1451.22" x2="607" y2="1451.22" stroke="#e6e6e6" stroke-width="0.5" stroke-dasharray="1 1"/>
<line x1="447.7" y1="1439.34" x2="607" y2="1439.34" stroke="#e6e6e6" stroke-width="0.5" stroke-dasharray="1 1"/>
<line x1="447.7" y1="1427.46" x2="607" y2="1427.46" stroke="#e6e6e6" stroke-width="0.5" stroke-dasharray="1 1"/>
<line x1="447.7" y1="1415.58" x2="607" y2="1415.58" stroke="#e6e6e6" stroke-width="0.5" stroke-dasharray="1 1"/>
<line x1="447.7" y1="1403.7" x2="607" y2="1403.7" stroke="#e6e6e6" stroke-width="0.5" stroke-dasharray="1 1"/>
<line x1="447.7" y1="1391.82" x2="607" y2="1391.82" stroke="#e6e6e6" stroke-width="0.5" stroke-dasharray="1 1"/>
<line x1="447.7" y1="1379.94" x2="607" y2="1379.94" stroke="#e6e6e6" stroke-width="0.5" stroke-dasharray="1 1"/>
<line x1="447.7" y1="1368.06" x2="607" y2="1368.06" stroke="#e6e6e6" stroke-width="0.5" stroke-dasharray="1 1"/>
<line x1="447.7" y1="1356.18" x2="607" y2="1356.18" stroke="#e6e6e6" stroke-width="0.5" stroke-dasharray="1 1"/>
<rect x="453.9" y="1368.06" width="34" height="95.04" fill="#4c72b0" stroke="#1f1f1f" stroke-width="0.8"/>
<rect x="509.6" y="1379.94" width="34" height="83.16" fill="#4c72b0" stroke="#1f1f1f" stroke-width="0.8"/>
<rect x="565.7" y="1403.7" width="34" height="59.4" fill="#4c72b0" stroke="#1f1f1f" stroke-width="0.8"/>
<line x1="447.7" y1="1355.8" x2="447.7" y2="1463.1" stroke="#6a6a6a" stroke-width="0.8"/>
<line x1="447.7" y1="1463.1" x2="607" y2="1463.1" stroke="#6a6a6a" stroke-width="0.8"/>
<line x1="446.1" y1="1463.1" x2="447.7" y2="1463.1" stroke="#222" stroke-width="0.5"/>
<text x="445.2" y="1464.9" font-size="5" fill="#222" text-anchor="end">0.00</text>
<line x1="446.1" y1="1451.22" x2="447.7" y2="1451.22" stroke="#222" stroke-width="0.5"/>
<text x="445.2" y="1453.02" font-size="5" fill="#222" text-anchor="end">0.05</text>
<line x1="446.1" y1="1439.34" x2="447.7" y2="1439.34" stroke="#222" stroke-width="0.5"/>
<text x="445.2" y="1441.14" font-size="5" fill="#222" text-anchor="end">0.10</text>
<line x1="446.1" y1="1427.46" x2="447.7" y2="1427.46" stroke="#222" stroke-width="0.5"/>
<text x="445.2" y="1429.26" font-size="5" fill="#222" text-anchor="end">0.15</text>
<line x1="446.1" y1="1415.58" x2="447.7" y2="1415.58" stroke="#222" stroke-width="0.5"/>
<text x="445.2" y="1417.38" font-size="5" fill="#222" text-anchor="end">0.20</text>
<line x1="446.1" y1="1403.7" x2="447.7" y2="1403.7" stroke="#222" stroke-width="0.5"/>
<text x="445.2" y="1405.5" font-size="5" fill="#222" text-anchor="end">0.25</text>
<line x1="446.1" y1="1391.82" x2="447.7" y2="1391.82" stroke="#222" stroke-width="0.5"/>
<text x="445.2" y="1393.62" font-size="5" fill="#222" text-anchor="end">0.30</text>
<line x1="446.1" y1="1379.94" x2="447.7" y2="1379.94" stroke="#222" stroke-width="0.5"/>
<text x="445.2" y="1381.74" font-size="5" fill="#222" text-anchor="end">0.35</text>
<line x1="446.1" y1="1368.06" x2="447.7" y2="1368.06" stroke="#222" stroke-width="0.5"/>
<text x="445.2" y="1369.86" font-size="5" fill="#222" text-anchor="end">0.40</text>
<line x1="446.1" y1="1356.18" x2="447.7" y2="1356.18" stroke="#222" stroke-width="0.5"/>
<text x="445.2" y="1357.98" font-size="5" fill="#222" text-anchor="end">0.45</text>
<line x1="471.1" y1="1463.1" x2="471.1" y2="1464.7" stroke="#222" stroke-width="0.5"/>
<text x="471.1" y="1469" font-size="5" fill="#222" text-anchor="middle">Clinical</text>
<line x1="526.4" y1="1463.1" x2="526.4" y2="1464.7" stroke="#222" stroke-width="0.5"/>
<text x="526.4" y="1469" font-size="5" fill="#222" text-anchor="middle">Theoretical</text>
<line x1="581.9" y1="1463.1" x2="581.9" y2="1464.7" stroke="#222" stroke-width="0.5"/>
<text x="581.9" y="1469" font-size="5" fill="#222" text-anchor="middle">Applied</text>
<text x="526.2" y="1475.3" font-size="5.8" fill="#222" text-anchor="middle">Article Type</text>
<text x="433.6" y="1410" font-size="5.6" fill="#222" text-anchor="middle" transform="rotate(-90 433.6 1410)">Proportion</text>
<text x="721" y="1349.8" font-size="6.3" fill="#111" text-anchor="middle" font-weight="bold" textLength="101.1" lengthAdjust="spacingAndGlyphs">Hypotheses vs. Outcomes Matrix</text>
<rect x="650.4" y="1356.1" width="35.47" height="35.75" fill="#081d58" stroke="#e8eef0" stroke-width="0.5"/>
<text x="668.13" y="1375.67" font-size="4.8" fill="#fff" text-anchor="middle">0.6</text>
<rect x="685.87" y="1356.1" width="35.47" height="35.75" fill="#d6efb3" stroke="#e8eef0" stroke-width="0.5"/>
<text x="703.61" y="1375.67" font-size="4.8" fill="#222" text-anchor="middle">0.2</text>
<rect x="721.34" y="1356.1" width="35.47" height="35.75" fill="#2498c1" stroke="#e8eef0" stroke-width="0.5"/>
<text x="739.07" y="1375.67" font-size="4.8" fill="#fff" text-anchor="middle">0.4</text>
<rect x="756.81" y="1356.1" width="35.47" height="35.75" fill="#ffffd9" stroke="#e8eef0" stroke-width="0.5"/>
<text x="774.54" y="1375.67" font-size="4.8" fill="#222" text-anchor="middle">0.1</text>
<text x="648.5" y="1375.67" font-size="4.6" fill="#222" text-anchor="end">Hypothesis 1</text>
<rect x="650.4" y="1391.85" width="35.47" height="35.75" fill="#d6efb3" stroke="#e8eef0" stroke-width="0.5"/>
<text x="668.13" y="1411.42" font-size="4.8" fill="#222" text-anchor="middle">0.2</text>
<rect x="685.87" y="1391.85" width="35.47" height="35.75" fill="#234da0" stroke="#e8eef0" stroke-width="0.5"/>
<text x="703.61" y="1411.42" font-size="4.8" fill="#fff" text-anchor="middle">0.5</text>
<rect x="721.34" y="1391.85" width="35.47" height="35.75" fill="#73c8bd" stroke="#e8eef0" stroke-width="0.5"/>
<text x="739.07" y="1411.42" font-size="4.8" fill="#222" text-anchor="middle">0.3</text>
<rect x="756.81" y="1391.85" width="35.47" height="35.75" fill="#2498c1" stroke="#e8eef0" stroke-width="0.5"/>
<text x="774.54" y="1411.42" font-size="4.8" fill="#fff" text-anchor="middle">0.4</text>
<text x="648.5" y="1411.42" font-size="4.6" fill="#222" text-anchor="end">Hypothesis 2</text>
<rect x="650.4" y="1427.6" width="35.47" height="35.75" fill="#73c8bd" stroke="#e8eef0" stroke-width="0.5"/>
<text x="668.13" y="1447.17" font-size="4.8" fill="#222" text-anchor="middle">0.3</text>
<rect x="685.87" y="1427.6" width="35.47" height="35.75" fill="#ffffd9" stroke="#e8eef0" stroke-width="0.5"/>
<text x="703.61" y="1447.17" font-size="4.8" fill="#222" text-anchor="middle">0.1</text>
<rect x="721.34" y="1427.6" width="35.47" height="35.75" fill="#081d58" stroke="#e8eef0" stroke-width="0.5"/>
<text x="739.07" y="1447.17" font-size="4.8" fill="#fff" text-anchor="middle">0.6</text>
<rect x="756.81" y="1427.6" width="35.47" height="35.75" fill="#d6efb3" stroke="#e8eef0" stroke-width="0.5"/>
<text x="774.54" y="1447.17" font-size="4.8" fill="#222" text-anchor="middle">0.2</text>
<text x="648.5" y="1447.17" font-size="4.6" fill="#222" text-anchor="end">Hypothesis 3</text>
<rect x="650.4" y="1356.1" width="141.88" height="107.25" fill="none" stroke="#333" stroke-width="0.6"/>
<text x="668.13" y="1469" font-size="4.6" fill="#222" text-anchor="middle">Outcome A</text>
<text x="703.61" y="1469" font-size="4.6" fill="#222" text-anchor="middle">Outcome B</text>
<text x="739.07" y="1469" font-size="4.6" fill="#222" text-anchor="middle">Outcome C</text>
<text x="774.54" y="1469" font-size="4.6" fill="#222" text-anchor="middle">Outcome D</text>
<text x="721.3" y="1475.3" font-size="5.8" fill="#222" text-anchor="middle">Outcomes</text>
<text x="619" y="1410" font-size="5.6" fill="#222" text-anchor="middle" transform="rotate(-90 619 1410)">Study Outcomes</text>
<defs><linearGradient id="g5r" x1="0" y1="0" x2="0" y2="1"><stop offset="0" stop-color="#081d58"/><stop offset="0.12" stop-color="#253494"/><stop offset="0.25" stop-color="#225ea8"/><stop offset="0.38" stop-color="#1d91c0"/><stop offset="0.5" stop-color="#41b6c4"/><stop offset="0.62" stop-color="#7fcdbb"/><stop offset="0.75" stop-color="#c7e9b4"/><stop offset="0.88" stop-color="#edf8b1"/><stop offset="1" stop-color="#ffffd9"/></linearGradient></defs>
<rect x="798.7" y="1356.1" width="5.6" height="107.25" fill="url(#g5r)" stroke="#333" stroke-width="0.5"/>
<line x1="804.3" y1="1356.1" x2="805.5" y2="1356.1" stroke="#333" stroke-width="0.4"/>
<text x="806.8" y="1357.9" font-size="5" fill="#222">0.6</text>
<line x1="804.3" y1="1377.55" x2="805.5" y2="1377.55" stroke="#333" stroke-width="0.4"/>
<text x="806.8" y="1379.35" font-size="5" fill="#222">0.5</text>
<line x1="804.3" y1="1399" x2="805.5" y2="1399" stroke="#333" stroke-width="0.4"/>
<text x="806.8" y="1400.8" font-size="5" fill="#222">0.4</text>
<line x1="804.3" y1="1420.45" x2="805.5" y2="1420.45" stroke="#333" stroke-width="0.4"/>
<text x="806.8" y="1422.25" font-size="5" fill="#222">0.3</text>
<line x1="804.3" y1="1441.9" x2="805.5" y2="1441.9" stroke="#333" stroke-width="0.4"/>
<text x="806.8" y="1443.7" font-size="5" fill="#222">0.2</text>
<line x1="804.3" y1="1463.35" x2="805.5" y2="1463.35" stroke="#333" stroke-width="0.4"/>
<text x="806.8" y="1465.15" font-size="5" fill="#222">0.1</text></g>
</svg>
</body></html>
